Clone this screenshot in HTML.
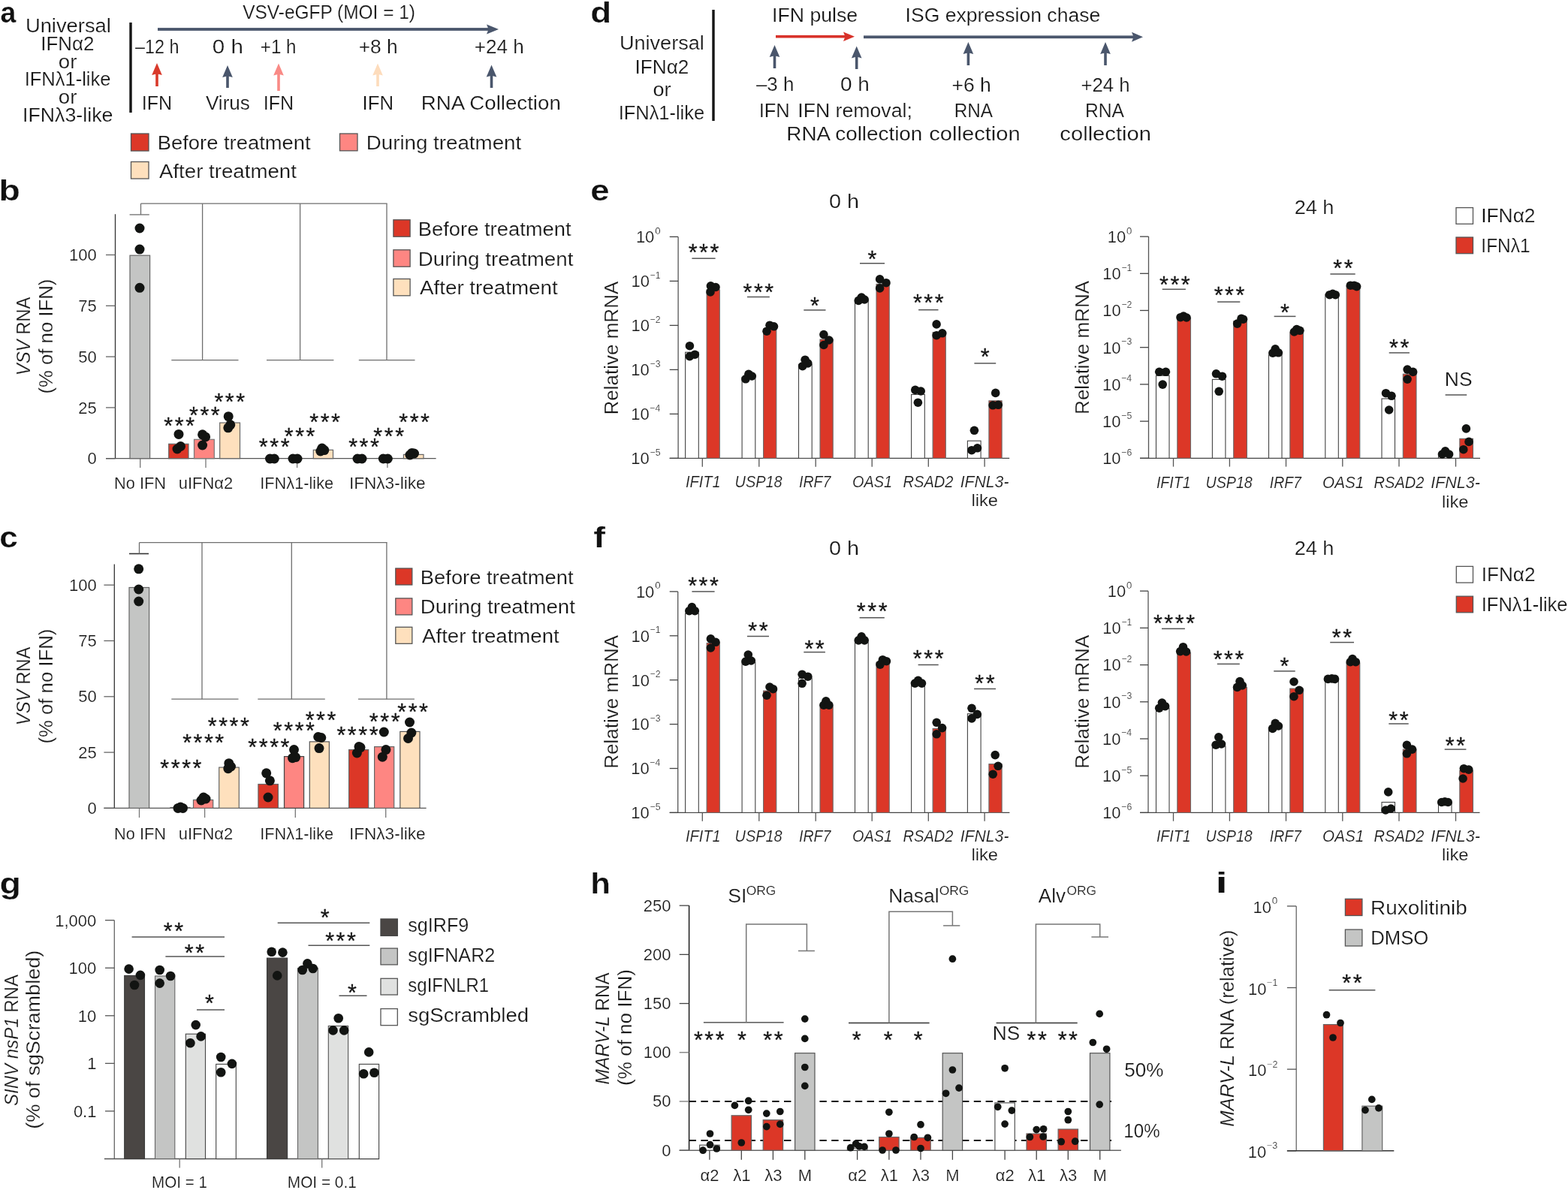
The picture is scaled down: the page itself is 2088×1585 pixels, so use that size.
<!DOCTYPE html>
<html><head><meta charset="utf-8"><title>Figure</title>
<style>html,body{margin:0;padding:0;background:#fff;}svg{display:block;}</style></head>
<body><svg width="2088" height="1585" viewBox="0 0 2088 1585" font-family="'Liberation Sans', 'DejaVu Sans', sans-serif">
<style>text{stroke:#fff;stroke-width:0.22px;}text.st{stroke:#161616;stroke-width:0.3px;}</style>
<rect width="2088" height="1585" fill="#fff"/>
<g transform="translate(1.7,30)" fill="#111"><text xml:space="preserve" x="-1.1" y="0" font-size="38" font-weight="bold" textLength="20.86" lengthAdjust="spacingAndGlyphs">a</text></g>
<g transform="translate(36,43)" fill="#161616"><text xml:space="preserve" x="-2.11" y="0" font-size="26.5" textLength="113.94" lengthAdjust="spacingAndGlyphs">Universal</text></g>
<g transform="translate(56.7,67)" fill="#161616"><text xml:space="preserve" x="-2.39" y="0" font-size="26.5" textLength="71.2" lengthAdjust="spacingAndGlyphs">IFNα2</text></g>
<g transform="translate(79,91)" fill="#161616"><text xml:space="preserve" x="-1.16" y="0" font-size="26.5" textLength="24.62" lengthAdjust="spacingAndGlyphs">or</text></g>
<g transform="translate(35,114.3)" fill="#161616"><text xml:space="preserve" x="-2.35" y="0" font-size="26.5" textLength="114.79" lengthAdjust="spacingAndGlyphs">IFNλ1-like</text></g>
<g transform="translate(79,137.6)" fill="#161616"><text xml:space="preserve" x="-1.16" y="0" font-size="26.5" textLength="24.62" lengthAdjust="spacingAndGlyphs">or</text></g>
<g transform="translate(32.5,161.7)" fill="#161616"><text xml:space="preserve" x="-2.47" y="0" font-size="26.5" textLength="120.36" lengthAdjust="spacingAndGlyphs">IFNλ3-like</text></g>
<rect x="172.3" y="30" width="3.4" height="120" fill="#151515"/>
<g transform="translate(323.3,25)" fill="#161616"><text xml:space="preserve" x="-0.11" y="0" font-size="26.5" textLength="229.81" lengthAdjust="spacingAndGlyphs">VSV-eGFP (MOI = 1)</text></g>
<rect x="210" y="37.1" width="441" height="3.8" fill="#4a566c"/>
<polygon points="664,39 648,32.5 650.5,39 648,45.5" fill="#4a566c"/>
<g transform="translate(180,71)" fill="#161616"><text xml:space="preserve" x="0" y="0" font-size="26.5" textLength="58.52" lengthAdjust="spacingAndGlyphs">–12 h</text></g>
<g transform="translate(284,71)" fill="#161616"><text xml:space="preserve" x="-1.15" y="0" font-size="26.5" textLength="41.07" lengthAdjust="spacingAndGlyphs">0 h</text></g>
<g transform="translate(348,71)" fill="#161616"><text xml:space="preserve" x="-1.18" y="0" font-size="26.5" textLength="47.75" lengthAdjust="spacingAndGlyphs">+1 h</text></g>
<g transform="translate(479,71)" fill="#161616"><text xml:space="preserve" x="-1.29" y="0" font-size="26.5" textLength="52" lengthAdjust="spacingAndGlyphs">+8 h</text></g>
<g transform="translate(633,71)" fill="#161616"><text xml:space="preserve" x="-1.27" y="0" font-size="26.5" textLength="65.97" lengthAdjust="spacingAndGlyphs">+24 h</text></g>
<rect x="207.2" y="96" width="3.6" height="19" fill="#d93a2b"/>
<polygon points="209,84 215.8,100 209,98.2 202.2,100" fill="#d93a2b"/>
<rect x="301.2" y="99" width="3.6" height="18" fill="#4a566c"/>
<polygon points="303,87 309.8,103 303,101.2 296.2,103" fill="#4a566c"/>
<rect x="369.2" y="96.5" width="3.6" height="24.5" fill="#f98a86"/>
<polygon points="371,84.5 377.8,100.5 371,98.7 364.2,100.5" fill="#f98a86"/>
<rect x="501.2" y="96.5" width="3.6" height="18.5" fill="#fddcbc"/>
<polygon points="503,84.5 509.8,100.5 503,98.7 496.2,100.5" fill="#fddcbc"/>
<rect x="652.7" y="98.5" width="3.6" height="18.5" fill="#4a566c"/>
<polygon points="654.5,86.5 661.3,102.5 654.5,100.7 647.7,102.5" fill="#4a566c"/>
<g transform="translate(191,146)" fill="#161616"><text xml:space="preserve" x="-2.31" y="0" font-size="26.5" textLength="40.35" lengthAdjust="spacingAndGlyphs">IFN</text></g>
<g transform="translate(274,146)" fill="#161616"><text xml:space="preserve" x="-0.11" y="0" font-size="26.5" textLength="59.05" lengthAdjust="spacingAndGlyphs">Virus</text></g>
<g transform="translate(353,146)" fill="#161616"><text xml:space="preserve" x="-2.31" y="0" font-size="26.5" textLength="40.35" lengthAdjust="spacingAndGlyphs">IFN</text></g>
<g transform="translate(485,146)" fill="#161616"><text xml:space="preserve" x="-2.38" y="0" font-size="26.5" textLength="41.48" lengthAdjust="spacingAndGlyphs">IFN</text></g>
<g transform="translate(563,146)" fill="#161616"><text xml:space="preserve" x="-2.25" y="0" font-size="26.5" textLength="186.03" lengthAdjust="spacingAndGlyphs">RNA Collection</text></g>
<rect x="174.5" y="178" width="23.5" height="23" fill="#dc3727" stroke="#555" stroke-width="1.3"/>
<g transform="translate(212,199)" fill="#161616"><text xml:space="preserve" x="-2.25" y="0" font-size="26.5" textLength="203.85" lengthAdjust="spacingAndGlyphs">Before treatment</text></g>
<rect x="452.5" y="178" width="23.5" height="22.8" fill="#fe8682" stroke="#555" stroke-width="1.3"/>
<g transform="translate(490,199)" fill="#161616"><text xml:space="preserve" x="-2.27" y="0" font-size="26.5" textLength="206.48" lengthAdjust="spacingAndGlyphs">During treatment</text></g>
<rect x="174.5" y="215.5" width="23.5" height="22.5" fill="#fee0bd" stroke="#555" stroke-width="1.3"/>
<g transform="translate(212,236.8)" fill="#161616"><text xml:space="preserve" x="-0.05" y="0" font-size="26.5" textLength="182.96" lengthAdjust="spacingAndGlyphs">After treatment</text></g>
<g transform="translate(788,30)" fill="#111"><text xml:space="preserve" x="-1.87" y="0" font-size="38" font-weight="bold" textLength="27.88" lengthAdjust="spacingAndGlyphs">d</text></g>
<g transform="translate(827,66.4)" fill="#161616"><text xml:space="preserve" x="-2.09" y="0" font-size="26.5" textLength="112.9" lengthAdjust="spacingAndGlyphs">Universal</text></g>
<g transform="translate(848,97.6)" fill="#161616"><text xml:space="preserve" x="-2.41" y="0" font-size="26.5" textLength="71.73" lengthAdjust="spacingAndGlyphs">IFNα2</text></g>
<g transform="translate(870.5,127.8)" fill="#161616"><text xml:space="preserve" x="-1.14" y="0" font-size="26.5" textLength="24.09" lengthAdjust="spacingAndGlyphs">or</text></g>
<g transform="translate(826,159)" fill="#161616"><text xml:space="preserve" x="-2.35" y="0" font-size="26.5" textLength="114.48" lengthAdjust="spacingAndGlyphs">IFNλ1-like</text></g>
<rect x="948.3" y="13" width="3.4" height="148" fill="#151515"/>
<g transform="translate(1030.5,29)" fill="#161616"><text xml:space="preserve" x="-2.46" y="0" font-size="26.5" textLength="114.15" lengthAdjust="spacingAndGlyphs">IFN pulse</text></g>
<g transform="translate(1208,29)" fill="#161616"><text xml:space="preserve" x="-2.45" y="0" font-size="26.5" textLength="259.63" lengthAdjust="spacingAndGlyphs">ISG expression chase</text></g>
<rect x="1033" y="46.9" width="93" height="3.6" fill="#d8322a"/>
<polygon points="1138,48.7 1123,42.5 1125.5,48.7 1123,54.9" fill="#d8322a"/>
<rect x="1150" y="47.4" width="360" height="3.8" fill="#4a566c"/>
<polygon points="1522,49.3 1507,42.8 1509.5,49.3 1507,55.8" fill="#4a566c"/>
<rect x="1029.7" y="72" width="3.6" height="19" fill="#4a566c"/>
<polygon points="1031.5,60 1038.3,76 1031.5,74.2 1024.7,76" fill="#4a566c"/>
<rect x="1138.9" y="73.4" width="3.6" height="18.6" fill="#4a566c"/>
<polygon points="1140.7,61.4 1147.5,77.4 1140.7,75.6 1133.9,77.4" fill="#4a566c"/>
<rect x="1287.6" y="68" width="3.6" height="19" fill="#4a566c"/>
<polygon points="1289.4,56 1296.2,72 1289.4,70.2 1282.6,72" fill="#4a566c"/>
<rect x="1470.2" y="68" width="3.6" height="19" fill="#4a566c"/>
<polygon points="1472,56 1478.8,72 1472,70.2 1465.2,72" fill="#4a566c"/>
<g transform="translate(1007,120.7)" fill="#161616"><text xml:space="preserve" x="0" y="0" font-size="26.5" textLength="50.28" lengthAdjust="spacingAndGlyphs">–3 h</text></g>
<g transform="translate(1120,120.7)" fill="#161616"><text xml:space="preserve" x="-1.09" y="0" font-size="26.5" textLength="38.91" lengthAdjust="spacingAndGlyphs">0 h</text></g>
<g transform="translate(1268.7,121.5)" fill="#161616"><text xml:space="preserve" x="-1.29" y="0" font-size="26.5" textLength="52.31" lengthAdjust="spacingAndGlyphs">+6 h</text></g>
<g transform="translate(1440.7,121.5)" fill="#161616"><text xml:space="preserve" x="-1.26" y="0" font-size="26.5" textLength="65.23" lengthAdjust="spacingAndGlyphs">+24 h</text></g>
<g transform="translate(1013,156)" fill="#161616"><text xml:space="preserve" x="-2.35" y="0" font-size="26.5" textLength="41.03" lengthAdjust="spacingAndGlyphs">IFN</text></g>
<g transform="translate(1064.7,156)" fill="#161616"><text xml:space="preserve" x="-2.46" y="0" font-size="26.5" textLength="152.55" lengthAdjust="spacingAndGlyphs">IFN removal;</text></g>
<g transform="translate(1272.7,156)" fill="#161616"><text xml:space="preserve" x="-1.99" y="0" font-size="26.5" textLength="51.34" lengthAdjust="spacingAndGlyphs">RNA</text></g>
<g transform="translate(1447,156)" fill="#161616"><text xml:space="preserve" x="-2.02" y="0" font-size="26.5" textLength="52.07" lengthAdjust="spacingAndGlyphs">RNA</text></g>
<g transform="translate(1049.6,187)" fill="#161616"><text xml:space="preserve" x="-2.26" y="0" font-size="26.5" textLength="180.96" lengthAdjust="spacingAndGlyphs">RNA collection</text></g>
<g transform="translate(1238.5,187)" fill="#161616"><text xml:space="preserve" x="-1.24" y="0" font-size="26.5" textLength="121.43" lengthAdjust="spacingAndGlyphs">collection</text></g>
<g transform="translate(1412.6,187)" fill="#161616"><text xml:space="preserve" x="-1.24" y="0" font-size="26.5" textLength="121.53" lengthAdjust="spacingAndGlyphs">collection</text></g>
<g transform="translate(1.6,267)" fill="#111"><text xml:space="preserve" x="-3.06" y="0" font-size="38" font-weight="bold" textLength="28.37" lengthAdjust="spacingAndGlyphs">b</text></g>
<line x1="172.6" y1="285.9" x2="198.8" y2="285.9" stroke="#8a8a8a" stroke-width="1.6"/>
<line x1="187.5" y1="285.9" x2="187.5" y2="271.2" stroke="#6e6e6e" stroke-width="1.3"/>
<line x1="187.5" y1="271.2" x2="515.6" y2="271.2" stroke="#6e6e6e" stroke-width="1.3"/>
<line x1="269.6" y1="271.2" x2="269.6" y2="479.6" stroke="#6e6e6e" stroke-width="1.3"/>
<line x1="399.6" y1="271.2" x2="399.6" y2="479.6" stroke="#6e6e6e" stroke-width="1.3"/>
<line x1="515" y1="271.2" x2="515" y2="479.6" stroke="#6e6e6e" stroke-width="1.3"/>
<line x1="228.3" y1="479.6" x2="317.5" y2="479.6" stroke="#6e6e6e" stroke-width="1.3"/>
<line x1="355" y1="479.6" x2="444.4" y2="479.6" stroke="#6e6e6e" stroke-width="1.3"/>
<line x1="477.8" y1="479.6" x2="552.5" y2="479.6" stroke="#6e6e6e" stroke-width="1.3"/>
<line x1="153.5" y1="285.3" x2="153.5" y2="610.7" stroke="#333" stroke-width="1.3"/>
<line x1="141" y1="610.7" x2="153.5" y2="610.7" stroke="#666" stroke-width="1.3"/>
<g transform="translate(117.28,618.3)" fill="#161616"><text xml:space="preserve" x="-0.86" y="0" font-size="22" textLength="12.24" lengthAdjust="spacingAndGlyphs">0</text></g>
<line x1="141" y1="542.9" x2="153.5" y2="542.9" stroke="#666" stroke-width="1.3"/>
<g transform="translate(105.36,550.5)" fill="#161616"><text xml:space="preserve" x="-1.11" y="0" font-size="22" textLength="24.47" lengthAdjust="spacingAndGlyphs">25</text></g>
<line x1="141" y1="475.1" x2="153.5" y2="475.1" stroke="#666" stroke-width="1.3"/>
<g transform="translate(105.07,482.7)" fill="#161616"><text xml:space="preserve" x="-0.88" y="0" font-size="22" textLength="24.47" lengthAdjust="spacingAndGlyphs">50</text></g>
<line x1="141" y1="407.3" x2="153.5" y2="407.3" stroke="#666" stroke-width="1.3"/>
<g transform="translate(105.38,414.9)" fill="#161616"><text xml:space="preserve" x="-1.13" y="0" font-size="22" textLength="24.47" lengthAdjust="spacingAndGlyphs">75</text></g>
<line x1="141" y1="339.5" x2="153.5" y2="339.5" stroke="#666" stroke-width="1.3"/>
<g transform="translate(93.63,347.1)" fill="#161616"><text xml:space="preserve" x="-1.68" y="0" font-size="22" textLength="36.71" lengthAdjust="spacingAndGlyphs">100</text></g>
<line x1="141" y1="610.7" x2="580.6" y2="610.7" stroke="#555" stroke-width="1.3"/>
<line x1="186.7" y1="610.7" x2="186.7" y2="623" stroke="#777" stroke-width="1.3"/>
<line x1="274" y1="610.7" x2="274" y2="623" stroke="#777" stroke-width="1.3"/>
<line x1="395.6" y1="610.7" x2="395.6" y2="623" stroke="#777" stroke-width="1.3"/>
<line x1="515.9" y1="610.7" x2="515.9" y2="623" stroke="#777" stroke-width="1.3"/>
<rect x="173" y="340.2" width="26.6" height="270.5" fill="#c4c5c4" stroke="#666" stroke-width="1.2"/>
<rect x="224.7" y="591.3" width="26.3" height="19.4" fill="#dc3727" stroke="#666" stroke-width="1.2"/>
<rect x="258.5" y="585.3" width="26.8" height="25.4" fill="#fe8682" stroke="#777" stroke-width="1.2"/>
<rect x="292.7" y="563.1" width="26.8" height="47.6" fill="#fee0bd" stroke="#666" stroke-width="1.2"/>
<rect x="417.3" y="599.3" width="26.2" height="11.4" fill="#fee0bd" stroke="#666" stroke-width="1.2"/>
<rect x="537.4" y="605.4" width="26.6" height="5.3" fill="#fee0bd" stroke="#666" stroke-width="1.2"/>
<circle cx="186" cy="304" r="6.5" fill="#121412"/>
<circle cx="186" cy="332.1" r="6.5" fill="#121412"/>
<circle cx="186" cy="383.3" r="6.5" fill="#121412"/>
<circle cx="238" cy="578.4" r="6.5" fill="#121412"/>
<circle cx="236" cy="598" r="6.5" fill="#121412"/>
<circle cx="240.5" cy="594.5" r="6.5" fill="#121412"/>
<circle cx="269.6" cy="578.8" r="6.5" fill="#121412"/>
<circle cx="273.6" cy="581.9" r="6.5" fill="#121412"/>
<circle cx="269.6" cy="593" r="6.5" fill="#121412"/>
<circle cx="304.2" cy="554.7" r="6.5" fill="#121412"/>
<circle cx="306.8" cy="565.8" r="6.5" fill="#121412"/>
<circle cx="303.8" cy="569.8" r="6.5" fill="#121412"/>
<circle cx="359.5" cy="611" r="6.5" fill="#121412"/>
<circle cx="365.3" cy="611" r="6.5" fill="#121412"/>
<circle cx="390" cy="611" r="6.5" fill="#121412"/>
<circle cx="396" cy="611" r="6.5" fill="#121412"/>
<circle cx="428.8" cy="597" r="6.5" fill="#121412"/>
<circle cx="431.8" cy="599.6" r="6.5" fill="#121412"/>
<circle cx="426.8" cy="601" r="6.5" fill="#121412"/>
<circle cx="476" cy="611" r="6.5" fill="#121412"/>
<circle cx="482" cy="611" r="6.5" fill="#121412"/>
<circle cx="510.3" cy="611" r="6.5" fill="#121412"/>
<circle cx="516.3" cy="611" r="6.5" fill="#121412"/>
<circle cx="548.5" cy="603.4" r="6.5" fill="#121412"/>
<circle cx="551.5" cy="604" r="6.5" fill="#121412"/>
<circle cx="545.9" cy="606" r="6.5" fill="#121412"/>
<text class="st" x="224.3" y="578.33" font-size="30.5" text-anchor="middle" fill="#161616">*</text>
<text class="st" x="238.7" y="578.33" font-size="30.5" text-anchor="middle" fill="#161616">*</text>
<text class="st" x="253.1" y="578.33" font-size="30.5" text-anchor="middle" fill="#161616">*</text>
<text class="st" x="258" y="564.33" font-size="30.5" text-anchor="middle" fill="#161616">*</text>
<text class="st" x="272.4" y="564.33" font-size="30.5" text-anchor="middle" fill="#161616">*</text>
<text class="st" x="286.8" y="564.33" font-size="30.5" text-anchor="middle" fill="#161616">*</text>
<text class="st" x="291.4" y="546.13" font-size="30.5" text-anchor="middle" fill="#161616">*</text>
<text class="st" x="305.8" y="546.13" font-size="30.5" text-anchor="middle" fill="#161616">*</text>
<text class="st" x="320.2" y="546.13" font-size="30.5" text-anchor="middle" fill="#161616">*</text>
<text class="st" x="350.8" y="605.63" font-size="30.5" text-anchor="middle" fill="#161616">*</text>
<text class="st" x="365.2" y="605.63" font-size="30.5" text-anchor="middle" fill="#161616">*</text>
<text class="st" x="379.6" y="605.63" font-size="30.5" text-anchor="middle" fill="#161616">*</text>
<text class="st" x="384.7" y="592.43" font-size="30.5" text-anchor="middle" fill="#161616">*</text>
<text class="st" x="399.1" y="592.43" font-size="30.5" text-anchor="middle" fill="#161616">*</text>
<text class="st" x="413.5" y="592.43" font-size="30.5" text-anchor="middle" fill="#161616">*</text>
<text class="st" x="418.2" y="573.33" font-size="30.5" text-anchor="middle" fill="#161616">*</text>
<text class="st" x="432.6" y="573.33" font-size="30.5" text-anchor="middle" fill="#161616">*</text>
<text class="st" x="447" y="573.33" font-size="30.5" text-anchor="middle" fill="#161616">*</text>
<text class="st" x="470.1" y="605.63" font-size="30.5" text-anchor="middle" fill="#161616">*</text>
<text class="st" x="484.5" y="605.63" font-size="30.5" text-anchor="middle" fill="#161616">*</text>
<text class="st" x="498.9" y="605.63" font-size="30.5" text-anchor="middle" fill="#161616">*</text>
<text class="st" x="503.3" y="592.43" font-size="30.5" text-anchor="middle" fill="#161616">*</text>
<text class="st" x="517.7" y="592.43" font-size="30.5" text-anchor="middle" fill="#161616">*</text>
<text class="st" x="532.1" y="592.43" font-size="30.5" text-anchor="middle" fill="#161616">*</text>
<text class="st" x="537.2" y="573.33" font-size="30.5" text-anchor="middle" fill="#161616">*</text>
<text class="st" x="551.6" y="573.33" font-size="30.5" text-anchor="middle" fill="#161616">*</text>
<text class="st" x="566" y="573.33" font-size="30.5" text-anchor="middle" fill="#161616">*</text>
<g transform="translate(153.9,650.8)" fill="#161616"><text xml:space="preserve" x="-1.79" y="0" font-size="22" textLength="68.96" lengthAdjust="spacingAndGlyphs">No IFN</text></g>
<g transform="translate(239.1,650.8)" fill="#161616"><text xml:space="preserve" x="-1.42" y="0" font-size="22" textLength="72.43" lengthAdjust="spacingAndGlyphs">uIFNα2</text></g>
<g transform="translate(348.3,650.8)" fill="#161616"><text xml:space="preserve" x="-2.01" y="0" font-size="22" textLength="97.87" lengthAdjust="spacingAndGlyphs">IFNλ1-like</text></g>
<g transform="translate(467,650.8)" fill="#161616"><text xml:space="preserve" x="-2.09" y="0" font-size="22" textLength="101.69" lengthAdjust="spacingAndGlyphs">IFNλ3-like</text></g>
<rect x="523.9" y="292.8" width="22.2" height="22.4" fill="#dc3727" stroke="#555" stroke-width="1.3"/>
<rect x="523.9" y="332.8" width="22.2" height="22.4" fill="#fe8682" stroke="#555" stroke-width="1.3"/>
<rect x="523.9" y="371.5" width="22.2" height="22.3" fill="#fee0bd" stroke="#555" stroke-width="1.3"/>
<g transform="translate(559,313.8)" fill="#161616"><text xml:space="preserve" x="-2.25" y="0" font-size="26.5" textLength="203.85" lengthAdjust="spacingAndGlyphs">Before treatment</text></g>
<g transform="translate(559,354.4)" fill="#161616"><text xml:space="preserve" x="-2.28" y="0" font-size="26.5" textLength="206.68" lengthAdjust="spacingAndGlyphs">During treatment</text></g>
<g transform="translate(559,392.2)" fill="#161616"><text xml:space="preserve" x="-0.05" y="0" font-size="26.5" textLength="183.76" lengthAdjust="spacingAndGlyphs">After treatment</text></g>
<g transform="translate(39.6,498.2) rotate(-90)" fill="#161616"><text xml:space="preserve" x="-2.06" y="0" font-size="26.5" font-style="italic" textLength="47.77" lengthAdjust="spacingAndGlyphs">VSV</text><text xml:space="preserve" x="45.71" y="0" font-size="26.5" textLength="57.04" lengthAdjust="spacingAndGlyphs"> RNA</text></g>
<g transform="translate(70.1,523) rotate(-90)" fill="#161616"><text xml:space="preserve" x="-1.59" y="0" font-size="26.5" textLength="152.89" lengthAdjust="spacingAndGlyphs">(% of no IFN)</text></g>
<g transform="translate(1,729)" fill="#111"><text xml:space="preserve" x="-1.72" y="0" font-size="38" font-weight="bold" textLength="24.51" lengthAdjust="spacingAndGlyphs">c</text></g>
<line x1="172" y1="737.5" x2="198" y2="737.5" stroke="#333" stroke-width="1.6"/>
<line x1="185.5" y1="737.5" x2="185.5" y2="722.6" stroke="#6e6e6e" stroke-width="1.3"/>
<line x1="185.5" y1="722.6" x2="515.5" y2="722.6" stroke="#6e6e6e" stroke-width="1.3"/>
<line x1="269" y1="722.6" x2="269" y2="931.2" stroke="#6e6e6e" stroke-width="1.3"/>
<line x1="388.3" y1="722.6" x2="388.3" y2="931.2" stroke="#6e6e6e" stroke-width="1.3"/>
<line x1="514.9" y1="722.6" x2="514.9" y2="931.2" stroke="#6e6e6e" stroke-width="1.3"/>
<line x1="228.3" y1="931.2" x2="317.5" y2="931.2" stroke="#6e6e6e" stroke-width="1.3"/>
<line x1="343.3" y1="931.2" x2="432.8" y2="931.2" stroke="#6e6e6e" stroke-width="1.3"/>
<line x1="477" y1="931.2" x2="551.9" y2="931.2" stroke="#6e6e6e" stroke-width="1.3"/>
<line x1="152.3" y1="751.4" x2="152.3" y2="1076.4" stroke="#333" stroke-width="1.3"/>
<line x1="138.4" y1="1076.4" x2="152.3" y2="1076.4" stroke="#666" stroke-width="1.3"/>
<g transform="translate(117.28,1084)" fill="#161616"><text xml:space="preserve" x="-0.86" y="0" font-size="22" textLength="12.24" lengthAdjust="spacingAndGlyphs">0</text></g>
<line x1="138.4" y1="1002.1" x2="152.3" y2="1002.1" stroke="#666" stroke-width="1.3"/>
<g transform="translate(105.36,1009.7)" fill="#161616"><text xml:space="preserve" x="-1.11" y="0" font-size="22" textLength="24.47" lengthAdjust="spacingAndGlyphs">25</text></g>
<line x1="138.4" y1="927.8" x2="152.3" y2="927.8" stroke="#666" stroke-width="1.3"/>
<g transform="translate(105.07,935.4)" fill="#161616"><text xml:space="preserve" x="-0.88" y="0" font-size="22" textLength="24.47" lengthAdjust="spacingAndGlyphs">50</text></g>
<line x1="138.4" y1="853.5" x2="152.3" y2="853.5" stroke="#666" stroke-width="1.3"/>
<g transform="translate(105.38,861.1)" fill="#161616"><text xml:space="preserve" x="-1.13" y="0" font-size="22" textLength="24.47" lengthAdjust="spacingAndGlyphs">75</text></g>
<line x1="138.4" y1="779.2" x2="152.3" y2="779.2" stroke="#666" stroke-width="1.3"/>
<g transform="translate(93.63,786.8)" fill="#161616"><text xml:space="preserve" x="-1.68" y="0" font-size="22" textLength="36.71" lengthAdjust="spacingAndGlyphs">100</text></g>
<line x1="138.4" y1="1076.4" x2="567.6" y2="1076.4" stroke="#555" stroke-width="1.3"/>
<line x1="185.5" y1="1076.4" x2="185.5" y2="1089" stroke="#777" stroke-width="1.3"/>
<line x1="272.6" y1="1076.4" x2="272.6" y2="1089" stroke="#777" stroke-width="1.3"/>
<line x1="393.3" y1="1076.4" x2="393.3" y2="1089" stroke="#777" stroke-width="1.3"/>
<line x1="513.7" y1="1076.4" x2="513.7" y2="1089" stroke="#777" stroke-width="1.3"/>
<rect x="172" y="782.5" width="26.6" height="293.9" fill="#c4c5c4" stroke="#666" stroke-width="1.2"/>
<rect x="227" y="1075.5" width="26" height="0.9" fill="#dc3727" stroke="#666" stroke-width="1.2"/>
<rect x="257.5" y="1065.4" width="26.2" height="11" fill="#fe8682" stroke="#666" stroke-width="1.2"/>
<rect x="291.7" y="1022.1" width="26.6" height="54.3" fill="#fee0bd" stroke="#666" stroke-width="1.2"/>
<rect x="343.9" y="1044.5" width="26.5" height="31.9" fill="#dc3727" stroke="#666" stroke-width="1.2"/>
<rect x="378.5" y="1007.6" width="26.1" height="68.8" fill="#fe8682" stroke="#444" stroke-width="1.2"/>
<rect x="412.3" y="987.9" width="26.1" height="88.5" fill="#fee0bd" stroke="#555" stroke-width="1.2"/>
<rect x="464.6" y="998.6" width="26.1" height="77.8" fill="#dc3727" stroke="#666" stroke-width="1.2"/>
<rect x="498.6" y="994.6" width="26.1" height="81.8" fill="#fe8682" stroke="#666" stroke-width="1.2"/>
<rect x="532.8" y="974.4" width="26.2" height="102" fill="#fee0bd" stroke="#555" stroke-width="1.2"/>
<circle cx="184.7" cy="757.8" r="6.5" fill="#121412"/>
<circle cx="184.7" cy="785" r="6.5" fill="#121412"/>
<circle cx="184.7" cy="801" r="6.5" fill="#121412"/>
<circle cx="237" cy="1076.4" r="6.5" fill="#121412"/>
<circle cx="240.4" cy="1075" r="6.5" fill="#121412"/>
<circle cx="243.5" cy="1076.4" r="6.5" fill="#121412"/>
<circle cx="268" cy="1066" r="6.5" fill="#121412"/>
<circle cx="271" cy="1062" r="6.5" fill="#121412"/>
<circle cx="274" cy="1064" r="6.5" fill="#121412"/>
<circle cx="304.8" cy="1016.7" r="6.5" fill="#121412"/>
<circle cx="303.8" cy="1023.7" r="6.5" fill="#121412"/>
<circle cx="307.5" cy="1021" r="6.5" fill="#121412"/>
<circle cx="354.7" cy="1029.8" r="6.5" fill="#121412"/>
<circle cx="359.4" cy="1039.8" r="6.5" fill="#121412"/>
<circle cx="357" cy="1062" r="6.5" fill="#121412"/>
<circle cx="391.5" cy="998.6" r="6.5" fill="#121412"/>
<circle cx="389.5" cy="1009.7" r="6.5" fill="#121412"/>
<circle cx="393.6" cy="1008.6" r="6.5" fill="#121412"/>
<circle cx="423.7" cy="981.5" r="6.5" fill="#121412"/>
<circle cx="427.8" cy="982.5" r="6.5" fill="#121412"/>
<circle cx="425" cy="996.6" r="6.5" fill="#121412"/>
<circle cx="478" cy="994.6" r="6.5" fill="#121412"/>
<circle cx="475.4" cy="1003" r="6.5" fill="#121412"/>
<circle cx="480" cy="995.6" r="6.5" fill="#121412"/>
<circle cx="511.3" cy="975" r="6.5" fill="#121412"/>
<circle cx="513.9" cy="998.6" r="6.5" fill="#121412"/>
<circle cx="509.3" cy="1008.2" r="6.5" fill="#121412"/>
<circle cx="545.5" cy="962" r="6.5" fill="#121412"/>
<circle cx="547.9" cy="976" r="6.5" fill="#121412"/>
<circle cx="543.5" cy="983.5" r="6.5" fill="#121412"/>
<text class="st" x="219.3" y="1034.33" font-size="30.5" text-anchor="middle" fill="#161616">*</text>
<text class="st" x="233.7" y="1034.33" font-size="30.5" text-anchor="middle" fill="#161616">*</text>
<text class="st" x="248.1" y="1034.33" font-size="30.5" text-anchor="middle" fill="#161616">*</text>
<text class="st" x="262.5" y="1034.33" font-size="30.5" text-anchor="middle" fill="#161616">*</text>
<text class="st" x="249.1" y="1000.13" font-size="30.5" text-anchor="middle" fill="#161616">*</text>
<text class="st" x="263.5" y="1000.13" font-size="30.5" text-anchor="middle" fill="#161616">*</text>
<text class="st" x="277.9" y="1000.13" font-size="30.5" text-anchor="middle" fill="#161616">*</text>
<text class="st" x="292.3" y="1000.13" font-size="30.5" text-anchor="middle" fill="#161616">*</text>
<text class="st" x="282.7" y="978.03" font-size="30.5" text-anchor="middle" fill="#161616">*</text>
<text class="st" x="297.1" y="978.03" font-size="30.5" text-anchor="middle" fill="#161616">*</text>
<text class="st" x="311.5" y="978.03" font-size="30.5" text-anchor="middle" fill="#161616">*</text>
<text class="st" x="325.9" y="978.03" font-size="30.5" text-anchor="middle" fill="#161616">*</text>
<text class="st" x="336.3" y="1006.13" font-size="30.5" text-anchor="middle" fill="#161616">*</text>
<text class="st" x="350.7" y="1006.13" font-size="30.5" text-anchor="middle" fill="#161616">*</text>
<text class="st" x="365.1" y="1006.13" font-size="30.5" text-anchor="middle" fill="#161616">*</text>
<text class="st" x="379.5" y="1006.13" font-size="30.5" text-anchor="middle" fill="#161616">*</text>
<text class="st" x="369.8" y="984.03" font-size="30.5" text-anchor="middle" fill="#161616">*</text>
<text class="st" x="384.2" y="984.03" font-size="30.5" text-anchor="middle" fill="#161616">*</text>
<text class="st" x="398.6" y="984.03" font-size="30.5" text-anchor="middle" fill="#161616">*</text>
<text class="st" x="413" y="984.03" font-size="30.5" text-anchor="middle" fill="#161616">*</text>
<text class="st" x="412.6" y="969.63" font-size="30.5" text-anchor="middle" fill="#161616">*</text>
<text class="st" x="427" y="969.63" font-size="30.5" text-anchor="middle" fill="#161616">*</text>
<text class="st" x="441.4" y="969.63" font-size="30.5" text-anchor="middle" fill="#161616">*</text>
<text class="st" x="454.4" y="989.63" font-size="30.5" text-anchor="middle" fill="#161616">*</text>
<text class="st" x="468.8" y="989.63" font-size="30.5" text-anchor="middle" fill="#161616">*</text>
<text class="st" x="483.2" y="989.63" font-size="30.5" text-anchor="middle" fill="#161616">*</text>
<text class="st" x="497.6" y="989.63" font-size="30.5" text-anchor="middle" fill="#161616">*</text>
<text class="st" x="497.8" y="971.63" font-size="30.5" text-anchor="middle" fill="#161616">*</text>
<text class="st" x="512.2" y="971.63" font-size="30.5" text-anchor="middle" fill="#161616">*</text>
<text class="st" x="526.6" y="971.63" font-size="30.5" text-anchor="middle" fill="#161616">*</text>
<text class="st" x="535.2" y="959.33" font-size="30.5" text-anchor="middle" fill="#161616">*</text>
<text class="st" x="549.6" y="959.33" font-size="30.5" text-anchor="middle" fill="#161616">*</text>
<text class="st" x="564" y="959.33" font-size="30.5" text-anchor="middle" fill="#161616">*</text>
<g transform="translate(153.9,1118)" fill="#161616"><text xml:space="preserve" x="-1.79" y="0" font-size="22" textLength="68.96" lengthAdjust="spacingAndGlyphs">No IFN</text></g>
<g transform="translate(239.1,1118)" fill="#161616"><text xml:space="preserve" x="-1.42" y="0" font-size="22" textLength="72.43" lengthAdjust="spacingAndGlyphs">uIFNα2</text></g>
<g transform="translate(348.3,1118)" fill="#161616"><text xml:space="preserve" x="-2.01" y="0" font-size="22" textLength="97.87" lengthAdjust="spacingAndGlyphs">IFNλ1-like</text></g>
<g transform="translate(467,1118)" fill="#161616"><text xml:space="preserve" x="-2.09" y="0" font-size="22" textLength="101.69" lengthAdjust="spacingAndGlyphs">IFNλ3-like</text></g>
<rect x="526.8" y="757" width="22" height="22" fill="#dc3727" stroke="#555" stroke-width="1.3"/>
<rect x="526.8" y="796.9" width="22" height="22" fill="#fe8682" stroke="#555" stroke-width="1.3"/>
<rect x="526.8" y="835.3" width="22" height="22" fill="#fee0bd" stroke="#555" stroke-width="1.3"/>
<g transform="translate(562.1,777.8)" fill="#161616"><text xml:space="preserve" x="-2.24" y="0" font-size="26.5" textLength="203.64" lengthAdjust="spacingAndGlyphs">Before treatment</text></g>
<g transform="translate(562.1,817.3)" fill="#161616"><text xml:space="preserve" x="-2.27" y="0" font-size="26.5" textLength="206.07" lengthAdjust="spacingAndGlyphs">During treatment</text></g>
<g transform="translate(562.1,855.9)" fill="#161616"><text xml:space="preserve" x="-0.05" y="0" font-size="26.5" textLength="182.66" lengthAdjust="spacingAndGlyphs">After treatment</text></g>
<g transform="translate(39.6,964.2) rotate(-90)" fill="#161616"><text xml:space="preserve" x="-2.06" y="0" font-size="26.5" font-style="italic" textLength="47.77" lengthAdjust="spacingAndGlyphs">VSV</text><text xml:space="preserve" x="45.71" y="0" font-size="26.5" textLength="57.04" lengthAdjust="spacingAndGlyphs"> RNA</text></g>
<g transform="translate(70.1,989) rotate(-90)" fill="#161616"><text xml:space="preserve" x="-1.59" y="0" font-size="26.5" textLength="152.89" lengthAdjust="spacingAndGlyphs">(% of no IFN)</text></g>
<g transform="translate(788,267)" fill="#111"><text xml:space="preserve" x="-1.78" y="0" font-size="38" font-weight="bold" textLength="25.34" lengthAdjust="spacingAndGlyphs">e</text></g>
<g transform="translate(1105,277.2)" fill="#161616"><text xml:space="preserve" x="-1.12" y="0" font-size="26.5" textLength="39.99" lengthAdjust="spacingAndGlyphs">0 h</text></g>
<g transform="translate(1725,284.9)" fill="#161616"><text xml:space="preserve" x="-1.37" y="0" font-size="26.5" textLength="52.83" lengthAdjust="spacingAndGlyphs">24 h</text></g>
<line x1="903.1" y1="315.4" x2="903.1" y2="610.4" stroke="#555" stroke-width="1.3"/>
<line x1="891.7" y1="315.4" x2="903.1" y2="315.4" stroke="#444" stroke-width="1.3"/>
<g transform="translate(872.69,311.8)" fill="#161616"><text xml:space="preserve" x="-0.52" y="0" font-size="13.2" textLength="7.34" lengthAdjust="spacingAndGlyphs">0</text></g>
<g transform="translate(848.55,323.2)" fill="#161616"><text xml:space="preserve" x="-1.68" y="0" font-size="22" textLength="24.47" lengthAdjust="spacingAndGlyphs">10</text></g>
<line x1="891.7" y1="374.4" x2="903.1" y2="374.4" stroke="#444" stroke-width="1.3"/>
<g transform="translate(866.21,370.8)" fill="#161616"><text xml:space="preserve" x="-0.61" y="0" font-size="13.2" textLength="14" lengthAdjust="spacingAndGlyphs">−1</text></g>
<g transform="translate(842.07,382.2)" fill="#161616"><text xml:space="preserve" x="-1.68" y="0" font-size="22" textLength="24.47" lengthAdjust="spacingAndGlyphs">10</text></g>
<line x1="891.7" y1="433.4" x2="903.1" y2="433.4" stroke="#444" stroke-width="1.3"/>
<g transform="translate(866.23,429.8)" fill="#161616"><text xml:space="preserve" x="-0.61" y="0" font-size="13.2" textLength="14" lengthAdjust="spacingAndGlyphs">−2</text></g>
<g transform="translate(842.09,441.2)" fill="#161616"><text xml:space="preserve" x="-1.68" y="0" font-size="22" textLength="24.47" lengthAdjust="spacingAndGlyphs">10</text></g>
<line x1="891.7" y1="492.4" x2="903.1" y2="492.4" stroke="#444" stroke-width="1.3"/>
<g transform="translate(866.15,488.8)" fill="#161616"><text xml:space="preserve" x="-0.61" y="0" font-size="13.2" textLength="14" lengthAdjust="spacingAndGlyphs">−3</text></g>
<g transform="translate(842.01,500.2)" fill="#161616"><text xml:space="preserve" x="-1.68" y="0" font-size="22" textLength="24.47" lengthAdjust="spacingAndGlyphs">10</text></g>
<line x1="891.7" y1="551.4" x2="903.1" y2="551.4" stroke="#444" stroke-width="1.3"/>
<g transform="translate(865.97,547.8)" fill="#161616"><text xml:space="preserve" x="-0.61" y="0" font-size="13.2" textLength="14" lengthAdjust="spacingAndGlyphs">−4</text></g>
<g transform="translate(841.83,559.2)" fill="#161616"><text xml:space="preserve" x="-1.68" y="0" font-size="22" textLength="24.47" lengthAdjust="spacingAndGlyphs">10</text></g>
<line x1="891.7" y1="610.4" x2="903.1" y2="610.4" stroke="#444" stroke-width="1.3"/>
<g transform="translate(866.12,606.8)" fill="#161616"><text xml:space="preserve" x="-0.61" y="0" font-size="13.2" textLength="14" lengthAdjust="spacingAndGlyphs">−5</text></g>
<g transform="translate(841.99,618.2)" fill="#161616"><text xml:space="preserve" x="-1.68" y="0" font-size="22" textLength="24.47" lengthAdjust="spacingAndGlyphs">10</text></g>
<line x1="891.7" y1="610.4" x2="1344.2" y2="610.4" stroke="#444" stroke-width="1.3"/>
<rect x="912.6" y="469.2" width="17.7" height="141.2" fill="#fff" stroke="#444" stroke-width="1.1"/>
<rect x="941.1" y="385.9" width="17.2" height="224.5" fill="#dc3727" stroke="#6a6a6a" stroke-width="1.1"/>
<line x1="935.3" y1="610.4" x2="935.3" y2="621.7" stroke="#555" stroke-width="1.3"/>
<rect x="988.1" y="502.4" width="17.7" height="108" fill="#fff" stroke="#444" stroke-width="1.1"/>
<rect x="1016.6" y="438" width="17.2" height="172.4" fill="#dc3727" stroke="#6a6a6a" stroke-width="1.1"/>
<line x1="1010.8" y1="610.4" x2="1010.8" y2="621.7" stroke="#555" stroke-width="1.3"/>
<rect x="1063.5" y="485.3" width="17.7" height="125.1" fill="#fff" stroke="#444" stroke-width="1.1"/>
<rect x="1092" y="452" width="17.2" height="158.4" fill="#dc3727" stroke="#6a6a6a" stroke-width="1.1"/>
<line x1="1086.2" y1="610.4" x2="1086.2" y2="621.7" stroke="#555" stroke-width="1.3"/>
<rect x="1138.5" y="400" width="17.7" height="210.4" fill="#fff" stroke="#444" stroke-width="1.1"/>
<rect x="1167" y="378.4" width="17.2" height="232" fill="#dc3727" stroke="#6a6a6a" stroke-width="1.1"/>
<line x1="1161.2" y1="610.4" x2="1161.2" y2="621.7" stroke="#555" stroke-width="1.3"/>
<rect x="1213.6" y="525.4" width="17.7" height="85" fill="#fff" stroke="#444" stroke-width="1.1"/>
<rect x="1242.1" y="442.7" width="17.2" height="167.7" fill="#dc3727" stroke="#6a6a6a" stroke-width="1.1"/>
<line x1="1236.3" y1="610.4" x2="1236.3" y2="621.7" stroke="#555" stroke-width="1.3"/>
<rect x="1288.4" y="587.2" width="17.7" height="23.2" fill="#fff" stroke="#444" stroke-width="1.1"/>
<rect x="1316.9" y="533.8" width="17.2" height="76.6" fill="#dc3727" stroke="#6a6a6a" stroke-width="1.1"/>
<line x1="1311.1" y1="610.4" x2="1311.1" y2="621.7" stroke="#555" stroke-width="1.3"/>
<line x1="921.4" y1="344.2" x2="952.6" y2="344.2" stroke="#555" stroke-width="1.5"/>
<text class="st" x="922.6" y="347.13" font-size="30.5" text-anchor="middle" fill="#161616">*</text>
<text class="st" x="937" y="347.13" font-size="30.5" text-anchor="middle" fill="#161616">*</text>
<text class="st" x="951.4" y="347.13" font-size="30.5" text-anchor="middle" fill="#161616">*</text>
<line x1="994.9" y1="395.5" x2="1024.8" y2="395.5" stroke="#555" stroke-width="1.5"/>
<text class="st" x="995.5" y="400.13" font-size="30.5" text-anchor="middle" fill="#161616">*</text>
<text class="st" x="1009.9" y="400.13" font-size="30.5" text-anchor="middle" fill="#161616">*</text>
<text class="st" x="1024.3" y="400.13" font-size="30.5" text-anchor="middle" fill="#161616">*</text>
<line x1="1070.3" y1="413" x2="1099.5" y2="413" stroke="#555" stroke-width="1.5"/>
<text class="st" x="1084.9" y="417.63" font-size="30.5" text-anchor="middle" fill="#161616">*</text>
<line x1="1145" y1="350.7" x2="1178" y2="350.7" stroke="#555" stroke-width="1.5"/>
<text class="st" x="1161.5" y="356.23" font-size="30.5" text-anchor="middle" fill="#161616">*</text>
<line x1="1223.1" y1="412.7" x2="1249.5" y2="412.7" stroke="#555" stroke-width="1.5"/>
<text class="st" x="1221.9" y="413.93" font-size="30.5" text-anchor="middle" fill="#161616">*</text>
<text class="st" x="1236.3" y="413.93" font-size="30.5" text-anchor="middle" fill="#161616">*</text>
<text class="st" x="1250.7" y="413.93" font-size="30.5" text-anchor="middle" fill="#161616">*</text>
<line x1="1297.4" y1="483.9" x2="1326.2" y2="483.9" stroke="#555" stroke-width="1.5"/>
<text class="st" x="1311.8" y="486.33" font-size="30.5" text-anchor="middle" fill="#161616">*</text>
<circle cx="918.4" cy="460.7" r="5.8" fill="#121412"/>
<circle cx="918.4" cy="474.6" r="5.8" fill="#121412"/>
<circle cx="925.3" cy="472.2" r="5.8" fill="#121412"/>
<circle cx="946.4" cy="380.8" r="5.8" fill="#121412"/>
<circle cx="953" cy="382.5" r="5.8" fill="#121412"/>
<circle cx="946" cy="388.9" r="5.8" fill="#121412"/>
<circle cx="996.9" cy="498.3" r="5.8" fill="#121412"/>
<circle cx="992.9" cy="504.8" r="5.8" fill="#121412"/>
<circle cx="1001.3" cy="501" r="5.8" fill="#121412"/>
<circle cx="1025" cy="433.2" r="5.8" fill="#121412"/>
<circle cx="1030.5" cy="434.8" r="5.8" fill="#121412"/>
<circle cx="1021" cy="441.2" r="5.8" fill="#121412"/>
<circle cx="1072.1" cy="479.2" r="5.8" fill="#121412"/>
<circle cx="1068.7" cy="487.7" r="5.8" fill="#121412"/>
<circle cx="1075.8" cy="483.9" r="5.8" fill="#121412"/>
<circle cx="1096.9" cy="445.6" r="5.8" fill="#121412"/>
<circle cx="1103.9" cy="453" r="5.8" fill="#121412"/>
<circle cx="1096.9" cy="459.5" r="5.8" fill="#121412"/>
<circle cx="1147.2" cy="396" r="5.8" fill="#121412"/>
<circle cx="1143.2" cy="400.4" r="5.8" fill="#121412"/>
<circle cx="1151.2" cy="399" r="5.8" fill="#121412"/>
<circle cx="1171.6" cy="371.9" r="5.8" fill="#121412"/>
<circle cx="1180" cy="376.7" r="5.8" fill="#121412"/>
<circle cx="1171.6" cy="383.9" r="5.8" fill="#121412"/>
<circle cx="1218.8" cy="519.4" r="5.8" fill="#121412"/>
<circle cx="1226.2" cy="521" r="5.8" fill="#121412"/>
<circle cx="1222.4" cy="536.2" r="5.8" fill="#121412"/>
<circle cx="1247.1" cy="431.9" r="5.8" fill="#121412"/>
<circle cx="1247.1" cy="446.7" r="5.8" fill="#121412"/>
<circle cx="1254.8" cy="443.8" r="5.8" fill="#121412"/>
<circle cx="1297.4" cy="573.3" r="5.8" fill="#121412"/>
<circle cx="1293.9" cy="599.7" r="5.8" fill="#121412"/>
<circle cx="1301.5" cy="596.8" r="5.8" fill="#121412"/>
<circle cx="1325.7" cy="523.4" r="5.8" fill="#121412"/>
<circle cx="1322.1" cy="539.8" r="5.8" fill="#121412"/>
<circle cx="1329.3" cy="539.3" r="5.8" fill="#121412"/>
<g transform="translate(913.8,649.2)" fill="#161616"><text xml:space="preserve" x="-0.79" y="0" font-size="22" font-style="italic" textLength="46.68" lengthAdjust="spacingAndGlyphs">IFIT1</text></g>
<g transform="translate(980,649.2)" fill="#161616"><text xml:space="preserve" x="-1.49" y="0" font-size="22" font-style="italic" textLength="63.1" lengthAdjust="spacingAndGlyphs">USP18</text></g>
<g transform="translate(1064.7,649.2)" fill="#161616"><text xml:space="preserve" x="-0.78" y="0" font-size="22" font-style="italic" textLength="42.47" lengthAdjust="spacingAndGlyphs">IRF7</text></g>
<g transform="translate(1136,649.2)" fill="#161616"><text xml:space="preserve" x="-1.08" y="0" font-size="22" font-style="italic" textLength="53.16" lengthAdjust="spacingAndGlyphs">OAS1</text></g>
<g transform="translate(1203.2,649.2)" fill="#161616"><text xml:space="preserve" x="-0.62" y="0" font-size="22" font-style="italic" textLength="66.91" lengthAdjust="spacingAndGlyphs">RSAD2</text></g>
<g transform="translate(1279.5,649.2)" fill="#161616"><text xml:space="preserve" x="-0.84" y="0" font-size="22" font-style="italic" textLength="64.82" lengthAdjust="spacingAndGlyphs">IFNL3-</text></g>
<g transform="translate(1295,674)" fill="#161616"><text xml:space="preserve" x="-1.6" y="0" font-size="22" textLength="35.66" lengthAdjust="spacingAndGlyphs">like</text></g>
<line x1="1529.5" y1="315.1" x2="1529.5" y2="610.3" stroke="#555" stroke-width="1.3"/>
<line x1="1518" y1="315.1" x2="1529.5" y2="315.1" stroke="#444" stroke-width="1.3"/>
<g transform="translate(1500.49,311.5)" fill="#161616"><text xml:space="preserve" x="-0.52" y="0" font-size="13.2" textLength="7.34" lengthAdjust="spacingAndGlyphs">0</text></g>
<g transform="translate(1476.35,322.9)" fill="#161616"><text xml:space="preserve" x="-1.68" y="0" font-size="22" textLength="24.47" lengthAdjust="spacingAndGlyphs">10</text></g>
<line x1="1518" y1="364.3" x2="1529.5" y2="364.3" stroke="#444" stroke-width="1.3"/>
<g transform="translate(1494.01,360.7)" fill="#161616"><text xml:space="preserve" x="-0.61" y="0" font-size="13.2" textLength="14" lengthAdjust="spacingAndGlyphs">−1</text></g>
<g transform="translate(1469.87,372.1)" fill="#161616"><text xml:space="preserve" x="-1.68" y="0" font-size="22" textLength="24.47" lengthAdjust="spacingAndGlyphs">10</text></g>
<line x1="1518" y1="413.5" x2="1529.5" y2="413.5" stroke="#444" stroke-width="1.3"/>
<g transform="translate(1494.03,409.9)" fill="#161616"><text xml:space="preserve" x="-0.61" y="0" font-size="13.2" textLength="14" lengthAdjust="spacingAndGlyphs">−2</text></g>
<g transform="translate(1469.89,421.3)" fill="#161616"><text xml:space="preserve" x="-1.68" y="0" font-size="22" textLength="24.47" lengthAdjust="spacingAndGlyphs">10</text></g>
<line x1="1518" y1="462.7" x2="1529.5" y2="462.7" stroke="#444" stroke-width="1.3"/>
<g transform="translate(1493.95,459.1)" fill="#161616"><text xml:space="preserve" x="-0.61" y="0" font-size="13.2" textLength="14" lengthAdjust="spacingAndGlyphs">−3</text></g>
<g transform="translate(1469.81,470.5)" fill="#161616"><text xml:space="preserve" x="-1.68" y="0" font-size="22" textLength="24.47" lengthAdjust="spacingAndGlyphs">10</text></g>
<line x1="1518" y1="511.9" x2="1529.5" y2="511.9" stroke="#444" stroke-width="1.3"/>
<g transform="translate(1493.77,508.3)" fill="#161616"><text xml:space="preserve" x="-0.61" y="0" font-size="13.2" textLength="14" lengthAdjust="spacingAndGlyphs">−4</text></g>
<g transform="translate(1469.63,519.7)" fill="#161616"><text xml:space="preserve" x="-1.68" y="0" font-size="22" textLength="24.47" lengthAdjust="spacingAndGlyphs">10</text></g>
<line x1="1518" y1="561.1" x2="1529.5" y2="561.1" stroke="#444" stroke-width="1.3"/>
<g transform="translate(1493.92,557.5)" fill="#161616"><text xml:space="preserve" x="-0.61" y="0" font-size="13.2" textLength="14" lengthAdjust="spacingAndGlyphs">−5</text></g>
<g transform="translate(1469.79,568.9)" fill="#161616"><text xml:space="preserve" x="-1.68" y="0" font-size="22" textLength="24.47" lengthAdjust="spacingAndGlyphs">10</text></g>
<line x1="1518" y1="610.3" x2="1529.5" y2="610.3" stroke="#444" stroke-width="1.3"/>
<g transform="translate(1493.95,606.7)" fill="#161616"><text xml:space="preserve" x="-0.61" y="0" font-size="13.2" textLength="14" lengthAdjust="spacingAndGlyphs">−6</text></g>
<g transform="translate(1469.81,618.1)" fill="#161616"><text xml:space="preserve" x="-1.68" y="0" font-size="22" textLength="24.47" lengthAdjust="spacingAndGlyphs">10</text></g>
<line x1="1518" y1="610.3" x2="1971" y2="610.3" stroke="#444" stroke-width="1.3"/>
<rect x="1539.5" y="500.3" width="17.5" height="110" fill="#fff" stroke="#444" stroke-width="1.1"/>
<rect x="1567.8" y="423.5" width="17.7" height="186.8" fill="#dc3727" stroke="#6a6a6a" stroke-width="1.1"/>
<line x1="1562.5" y1="610.3" x2="1562.5" y2="621.6" stroke="#555" stroke-width="1.3"/>
<rect x="1614.4" y="505.4" width="17.5" height="104.9" fill="#fff" stroke="#444" stroke-width="1.1"/>
<rect x="1642.7" y="427.7" width="17.7" height="182.6" fill="#dc3727" stroke="#6a6a6a" stroke-width="1.1"/>
<line x1="1637.4" y1="610.3" x2="1637.4" y2="621.6" stroke="#555" stroke-width="1.3"/>
<rect x="1689.5" y="472.7" width="17.5" height="137.6" fill="#fff" stroke="#444" stroke-width="1.1"/>
<rect x="1717.8" y="442.8" width="17.7" height="167.5" fill="#dc3727" stroke="#6a6a6a" stroke-width="1.1"/>
<line x1="1712.5" y1="610.3" x2="1712.5" y2="621.6" stroke="#555" stroke-width="1.3"/>
<rect x="1764.8" y="392.1" width="17.5" height="218.2" fill="#fff" stroke="#444" stroke-width="1.1"/>
<rect x="1793.1" y="381.6" width="17.7" height="228.7" fill="#dc3727" stroke="#6a6a6a" stroke-width="1.1"/>
<line x1="1787.8" y1="610.3" x2="1787.8" y2="621.6" stroke="#555" stroke-width="1.3"/>
<rect x="1840" y="531" width="17.5" height="79.3" fill="#fff" stroke="#444" stroke-width="1.1"/>
<rect x="1868.3" y="498.2" width="17.7" height="112.1" fill="#dc3727" stroke="#6a6a6a" stroke-width="1.1"/>
<line x1="1863" y1="610.3" x2="1863" y2="621.6" stroke="#555" stroke-width="1.3"/>
<rect x="1915.5" y="603.7" width="17.5" height="6.6" fill="#fff" stroke="#444" stroke-width="1.1"/>
<rect x="1943.8" y="584.3" width="17.7" height="26" fill="#dc3727" stroke="#6a6a6a" stroke-width="1.1"/>
<line x1="1938.5" y1="610.3" x2="1938.5" y2="621.6" stroke="#555" stroke-width="1.3"/>
<line x1="1547.7" y1="385.3" x2="1578.9" y2="385.3" stroke="#555" stroke-width="1.5"/>
<text class="st" x="1550" y="389.73" font-size="30.5" text-anchor="middle" fill="#161616">*</text>
<text class="st" x="1564.4" y="389.73" font-size="30.5" text-anchor="middle" fill="#161616">*</text>
<text class="st" x="1578.8" y="389.73" font-size="30.5" text-anchor="middle" fill="#161616">*</text>
<line x1="1621.1" y1="402.1" x2="1651.3" y2="402.1" stroke="#555" stroke-width="1.5"/>
<text class="st" x="1622.6" y="403.93" font-size="30.5" text-anchor="middle" fill="#161616">*</text>
<text class="st" x="1637" y="403.93" font-size="30.5" text-anchor="middle" fill="#161616">*</text>
<text class="st" x="1651.4" y="403.93" font-size="30.5" text-anchor="middle" fill="#161616">*</text>
<line x1="1696.6" y1="421.4" x2="1725.4" y2="421.4" stroke="#555" stroke-width="1.5"/>
<text class="st" x="1711" y="426.63" font-size="30.5" text-anchor="middle" fill="#161616">*</text>
<line x1="1771.4" y1="364.9" x2="1804.7" y2="364.9" stroke="#555" stroke-width="1.5"/>
<text class="st" x="1781.3" y="368.03" font-size="30.5" text-anchor="middle" fill="#161616">*</text>
<text class="st" x="1795.7" y="368.03" font-size="30.5" text-anchor="middle" fill="#161616">*</text>
<line x1="1849.7" y1="469.9" x2="1876.9" y2="469.9" stroke="#555" stroke-width="1.5"/>
<text class="st" x="1856" y="473.53" font-size="30.5" text-anchor="middle" fill="#161616">*</text>
<text class="st" x="1870.4" y="473.53" font-size="30.5" text-anchor="middle" fill="#161616">*</text>
<line x1="1924.6" y1="526" x2="1953.2" y2="526" stroke="#555" stroke-width="1.5"/>
<circle cx="1543.7" cy="495.3" r="5.8" fill="#121412"/>
<circle cx="1552.4" cy="495.3" r="5.8" fill="#121412"/>
<circle cx="1548.2" cy="512.1" r="5.8" fill="#121412"/>
<circle cx="1572" cy="422.7" r="5.8" fill="#121412"/>
<circle cx="1576" cy="421" r="5.8" fill="#121412"/>
<circle cx="1580" cy="423" r="5.8" fill="#121412"/>
<circle cx="1619.5" cy="497.8" r="5.8" fill="#121412"/>
<circle cx="1627.5" cy="501.2" r="5.8" fill="#121412"/>
<circle cx="1623.2" cy="521.3" r="5.8" fill="#121412"/>
<circle cx="1653" cy="424.4" r="5.8" fill="#121412"/>
<circle cx="1647.6" cy="431.1" r="5.8" fill="#121412"/>
<circle cx="1655.5" cy="425.2" r="5.8" fill="#121412"/>
<circle cx="1698.2" cy="464.8" r="5.8" fill="#121412"/>
<circle cx="1694.9" cy="470.2" r="5.8" fill="#121412"/>
<circle cx="1702.4" cy="469.8" r="5.8" fill="#121412"/>
<circle cx="1726.7" cy="438.6" r="5.8" fill="#121412"/>
<circle cx="1723.4" cy="442" r="5.8" fill="#121412"/>
<circle cx="1730.9" cy="440.3" r="5.8" fill="#121412"/>
<circle cx="1770.5" cy="392.7" r="5.8" fill="#121412"/>
<circle cx="1774.7" cy="391.3" r="5.8" fill="#121412"/>
<circle cx="1778.3" cy="392.7" r="5.8" fill="#121412"/>
<circle cx="1798.3" cy="380.2" r="5.8" fill="#121412"/>
<circle cx="1803.3" cy="380.2" r="5.8" fill="#121412"/>
<circle cx="1806.6" cy="381.6" r="5.8" fill="#121412"/>
<circle cx="1845.5" cy="523.7" r="5.8" fill="#121412"/>
<circle cx="1853" cy="527.3" r="5.8" fill="#121412"/>
<circle cx="1849.7" cy="546" r="5.8" fill="#121412"/>
<circle cx="1874.1" cy="492.1" r="5.8" fill="#121412"/>
<circle cx="1881.6" cy="495.4" r="5.8" fill="#121412"/>
<circle cx="1874.1" cy="505.1" r="5.8" fill="#121412"/>
<circle cx="1920.5" cy="605" r="5.8" fill="#121412"/>
<circle cx="1924.6" cy="600.9" r="5.8" fill="#121412"/>
<circle cx="1929.6" cy="605" r="5.8" fill="#121412"/>
<circle cx="1952.4" cy="570.9" r="5.8" fill="#121412"/>
<circle cx="1956" cy="588.4" r="5.8" fill="#121412"/>
<circle cx="1948.8" cy="598.7" r="5.8" fill="#121412"/>
<g transform="translate(1540.7,649.5)" fill="#161616"><text xml:space="preserve" x="-0.77" y="0" font-size="22" font-style="italic" textLength="45.62" lengthAdjust="spacingAndGlyphs">IFIT1</text></g>
<g transform="translate(1606.9,649.5)" fill="#161616"><text xml:space="preserve" x="-1.47" y="0" font-size="22" font-style="italic" textLength="62.39" lengthAdjust="spacingAndGlyphs">USP18</text></g>
<g transform="translate(1691.5,649.5)" fill="#161616"><text xml:space="preserve" x="-0.77" y="0" font-size="22" font-style="italic" textLength="42.07" lengthAdjust="spacingAndGlyphs">IRF7</text></g>
<g transform="translate(1762.2,649.5)" fill="#161616"><text xml:space="preserve" x="-1.12" y="0" font-size="22" font-style="italic" textLength="55.06" lengthAdjust="spacingAndGlyphs">OAS1</text></g>
<g transform="translate(1830.2,649.5)" fill="#161616"><text xml:space="preserve" x="-0.62" y="0" font-size="22" font-style="italic" textLength="66.71" lengthAdjust="spacingAndGlyphs">RSAD2</text></g>
<g transform="translate(1906,649.5)" fill="#161616"><text xml:space="preserve" x="-0.85" y="0" font-size="22" font-style="italic" textLength="65.73" lengthAdjust="spacingAndGlyphs">IFNL3-</text></g>
<g transform="translate(1921.5,675.9)" fill="#161616"><text xml:space="preserve" x="-1.6" y="0" font-size="22" textLength="35.66" lengthAdjust="spacingAndGlyphs">like</text></g>
<g transform="translate(1926,513.5)" fill="#161616"><text xml:space="preserve" x="-2.17" y="0" font-size="26.5" textLength="36.68" lengthAdjust="spacingAndGlyphs">NS</text></g>
<g transform="translate(823,550.3) rotate(-90)" fill="#161616"><text xml:space="preserve" x="-2.13" y="0" font-size="26.5" textLength="177.68" lengthAdjust="spacingAndGlyphs">Relative mRNA</text></g>
<g transform="translate(1450.2,549.8) rotate(-90)" fill="#161616"><text xml:space="preserve" x="-2.14" y="0" font-size="26.5" textLength="177.99" lengthAdjust="spacingAndGlyphs">Relative mRNA</text></g>
<rect x="1939" y="276.6" width="22.5" height="21.7" fill="#fff" stroke="#555" stroke-width="1.3"/>
<rect x="1939" y="316" width="22.5" height="21.7" fill="#dc3727" stroke="#555" stroke-width="1.3"/>
<g transform="translate(1974.6,296.4)" fill="#161616"><text xml:space="preserve" x="-2.43" y="0" font-size="26.5" textLength="72.36" lengthAdjust="spacingAndGlyphs">IFNα2</text></g>
<g transform="translate(1974.6,335.8)" fill="#161616"><text xml:space="preserve" x="-2.26" y="0" font-size="26.5" textLength="65.36" lengthAdjust="spacingAndGlyphs">IFNλ1</text></g>
<g transform="translate(791,728.8)" fill="#111"><text xml:space="preserve" x="-0.81" y="0" font-size="38" font-weight="bold" textLength="15.71" lengthAdjust="spacingAndGlyphs">f</text></g>
<g transform="translate(1105,738.6)" fill="#161616"><text xml:space="preserve" x="-1.12" y="0" font-size="26.5" textLength="39.99" lengthAdjust="spacingAndGlyphs">0 h</text></g>
<g transform="translate(1725,738.9)" fill="#161616"><text xml:space="preserve" x="-1.37" y="0" font-size="26.5" textLength="52.83" lengthAdjust="spacingAndGlyphs">24 h</text></g>
<line x1="902.7" y1="787.9" x2="902.7" y2="1082.4" stroke="#555" stroke-width="1.3"/>
<line x1="891.7" y1="787.9" x2="902.7" y2="787.9" stroke="#444" stroke-width="1.3"/>
<g transform="translate(872.69,784.3)" fill="#161616"><text xml:space="preserve" x="-0.52" y="0" font-size="13.2" textLength="7.34" lengthAdjust="spacingAndGlyphs">0</text></g>
<g transform="translate(848.55,795.7)" fill="#161616"><text xml:space="preserve" x="-1.68" y="0" font-size="22" textLength="24.47" lengthAdjust="spacingAndGlyphs">10</text></g>
<line x1="891.7" y1="846.8" x2="902.7" y2="846.8" stroke="#444" stroke-width="1.3"/>
<g transform="translate(866.21,843.2)" fill="#161616"><text xml:space="preserve" x="-0.61" y="0" font-size="13.2" textLength="14" lengthAdjust="spacingAndGlyphs">−1</text></g>
<g transform="translate(842.07,854.6)" fill="#161616"><text xml:space="preserve" x="-1.68" y="0" font-size="22" textLength="24.47" lengthAdjust="spacingAndGlyphs">10</text></g>
<line x1="891.7" y1="905.7" x2="902.7" y2="905.7" stroke="#444" stroke-width="1.3"/>
<g transform="translate(866.23,902.1)" fill="#161616"><text xml:space="preserve" x="-0.61" y="0" font-size="13.2" textLength="14" lengthAdjust="spacingAndGlyphs">−2</text></g>
<g transform="translate(842.09,913.5)" fill="#161616"><text xml:space="preserve" x="-1.68" y="0" font-size="22" textLength="24.47" lengthAdjust="spacingAndGlyphs">10</text></g>
<line x1="891.7" y1="964.6" x2="902.7" y2="964.6" stroke="#444" stroke-width="1.3"/>
<g transform="translate(866.15,961)" fill="#161616"><text xml:space="preserve" x="-0.61" y="0" font-size="13.2" textLength="14" lengthAdjust="spacingAndGlyphs">−3</text></g>
<g transform="translate(842.01,972.4)" fill="#161616"><text xml:space="preserve" x="-1.68" y="0" font-size="22" textLength="24.47" lengthAdjust="spacingAndGlyphs">10</text></g>
<line x1="891.7" y1="1023.5" x2="902.7" y2="1023.5" stroke="#444" stroke-width="1.3"/>
<g transform="translate(865.97,1019.9)" fill="#161616"><text xml:space="preserve" x="-0.61" y="0" font-size="13.2" textLength="14" lengthAdjust="spacingAndGlyphs">−4</text></g>
<g transform="translate(841.83,1031.3)" fill="#161616"><text xml:space="preserve" x="-1.68" y="0" font-size="22" textLength="24.47" lengthAdjust="spacingAndGlyphs">10</text></g>
<line x1="891.7" y1="1082.4" x2="902.7" y2="1082.4" stroke="#444" stroke-width="1.3"/>
<g transform="translate(866.12,1078.8)" fill="#161616"><text xml:space="preserve" x="-0.61" y="0" font-size="13.2" textLength="14" lengthAdjust="spacingAndGlyphs">−5</text></g>
<g transform="translate(841.99,1090.2)" fill="#161616"><text xml:space="preserve" x="-1.68" y="0" font-size="22" textLength="24.47" lengthAdjust="spacingAndGlyphs">10</text></g>
<line x1="891.7" y1="1082.4" x2="1344.4" y2="1082.4" stroke="#444" stroke-width="1.3"/>
<rect x="912.6" y="817.1" width="17.7" height="265.3" fill="#fff" stroke="#444" stroke-width="1.1"/>
<rect x="941.1" y="856.5" width="17.2" height="225.9" fill="#dc3727" stroke="#6a6a6a" stroke-width="1.1"/>
<line x1="935.3" y1="1082.4" x2="935.3" y2="1093.7" stroke="#555" stroke-width="1.3"/>
<rect x="988.1" y="882.1" width="17.7" height="200.3" fill="#fff" stroke="#444" stroke-width="1.1"/>
<rect x="1016.6" y="920.1" width="17.2" height="162.3" fill="#dc3727" stroke="#6a6a6a" stroke-width="1.1"/>
<line x1="1010.8" y1="1082.4" x2="1010.8" y2="1093.7" stroke="#555" stroke-width="1.3"/>
<rect x="1063.5" y="903.2" width="17.7" height="179.2" fill="#fff" stroke="#444" stroke-width="1.1"/>
<rect x="1092" y="941.2" width="17.2" height="141.2" fill="#dc3727" stroke="#6a6a6a" stroke-width="1.1"/>
<line x1="1086.2" y1="1082.4" x2="1086.2" y2="1093.7" stroke="#555" stroke-width="1.3"/>
<rect x="1138.5" y="855.9" width="17.7" height="226.5" fill="#fff" stroke="#444" stroke-width="1.1"/>
<rect x="1167" y="882.1" width="17.2" height="200.3" fill="#dc3727" stroke="#6a6a6a" stroke-width="1.1"/>
<line x1="1161.2" y1="1082.4" x2="1161.2" y2="1093.7" stroke="#555" stroke-width="1.3"/>
<rect x="1213.6" y="912.6" width="17.7" height="169.8" fill="#fff" stroke="#444" stroke-width="1.1"/>
<rect x="1242.1" y="970.4" width="17.2" height="112" fill="#dc3727" stroke="#6a6a6a" stroke-width="1.1"/>
<line x1="1236.3" y1="1082.4" x2="1236.3" y2="1093.7" stroke="#555" stroke-width="1.3"/>
<rect x="1288.4" y="950.7" width="17.7" height="131.7" fill="#fff" stroke="#444" stroke-width="1.1"/>
<rect x="1316.9" y="1017.6" width="17.2" height="64.8" fill="#dc3727" stroke="#6a6a6a" stroke-width="1.1"/>
<line x1="1311.1" y1="1082.4" x2="1311.1" y2="1093.7" stroke="#555" stroke-width="1.3"/>
<line x1="921.4" y1="787.9" x2="951.6" y2="787.9" stroke="#555" stroke-width="1.5"/>
<text class="st" x="922.1" y="791.03" font-size="30.5" text-anchor="middle" fill="#161616">*</text>
<text class="st" x="936.5" y="791.03" font-size="30.5" text-anchor="middle" fill="#161616">*</text>
<text class="st" x="950.9" y="791.03" font-size="30.5" text-anchor="middle" fill="#161616">*</text>
<line x1="994.9" y1="847.5" x2="1024" y2="847.5" stroke="#555" stroke-width="1.5"/>
<text class="st" x="1002.3" y="850.83" font-size="30.5" text-anchor="middle" fill="#161616">*</text>
<text class="st" x="1016.7" y="850.83" font-size="30.5" text-anchor="middle" fill="#161616">*</text>
<line x1="1070.3" y1="868.6" x2="1098.9" y2="868.6" stroke="#555" stroke-width="1.5"/>
<text class="st" x="1077.4" y="874.63" font-size="30.5" text-anchor="middle" fill="#161616">*</text>
<text class="st" x="1091.8" y="874.63" font-size="30.5" text-anchor="middle" fill="#161616">*</text>
<line x1="1144.6" y1="822.7" x2="1177.8" y2="822.7" stroke="#555" stroke-width="1.5"/>
<text class="st" x="1146.8" y="825.23" font-size="30.5" text-anchor="middle" fill="#161616">*</text>
<text class="st" x="1161.2" y="825.23" font-size="30.5" text-anchor="middle" fill="#161616">*</text>
<text class="st" x="1175.6" y="825.23" font-size="30.5" text-anchor="middle" fill="#161616">*</text>
<line x1="1222.6" y1="885.5" x2="1249.7" y2="885.5" stroke="#555" stroke-width="1.5"/>
<text class="st" x="1221.8" y="887.63" font-size="30.5" text-anchor="middle" fill="#161616">*</text>
<text class="st" x="1236.2" y="887.63" font-size="30.5" text-anchor="middle" fill="#161616">*</text>
<text class="st" x="1250.6" y="887.63" font-size="30.5" text-anchor="middle" fill="#161616">*</text>
<line x1="1297.1" y1="917.5" x2="1326" y2="917.5" stroke="#555" stroke-width="1.5"/>
<text class="st" x="1304.3" y="921.33" font-size="30.5" text-anchor="middle" fill="#161616">*</text>
<text class="st" x="1318.7" y="921.33" font-size="30.5" text-anchor="middle" fill="#161616">*</text>
<circle cx="921.4" cy="808.6" r="5.8" fill="#121412"/>
<circle cx="917.8" cy="813.7" r="5.8" fill="#121412"/>
<circle cx="925.3" cy="813.7" r="5.8" fill="#121412"/>
<circle cx="946.4" cy="850.9" r="5.8" fill="#121412"/>
<circle cx="953" cy="855.3" r="5.8" fill="#121412"/>
<circle cx="946.4" cy="863" r="5.8" fill="#121412"/>
<circle cx="996.3" cy="872" r="5.8" fill="#121412"/>
<circle cx="992.9" cy="881.1" r="5.8" fill="#121412"/>
<circle cx="1000.3" cy="880" r="5.8" fill="#121412"/>
<circle cx="1025" cy="915" r="5.8" fill="#121412"/>
<circle cx="1029.5" cy="917.7" r="5.8" fill="#121412"/>
<circle cx="1021" cy="926.2" r="5.8" fill="#121412"/>
<circle cx="1068.1" cy="898.2" r="5.8" fill="#121412"/>
<circle cx="1075.8" cy="901.2" r="5.8" fill="#121412"/>
<circle cx="1068.1" cy="910.3" r="5.8" fill="#121412"/>
<circle cx="1099.9" cy="933.8" r="5.8" fill="#121412"/>
<circle cx="1096.9" cy="939.2" r="5.8" fill="#121412"/>
<circle cx="1103.9" cy="939.2" r="5.8" fill="#121412"/>
<circle cx="1147.2" cy="847.9" r="5.8" fill="#121412"/>
<circle cx="1143.2" cy="852.9" r="5.8" fill="#121412"/>
<circle cx="1151.2" cy="852.9" r="5.8" fill="#121412"/>
<circle cx="1175.4" cy="878.7" r="5.8" fill="#121412"/>
<circle cx="1180.4" cy="880.7" r="5.8" fill="#121412"/>
<circle cx="1172" cy="885.1" r="5.8" fill="#121412"/>
<circle cx="1218.4" cy="910.1" r="5.8" fill="#121412"/>
<circle cx="1222.6" cy="906.4" r="5.8" fill="#121412"/>
<circle cx="1227.5" cy="910.1" r="5.8" fill="#121412"/>
<circle cx="1247.2" cy="962.3" r="5.8" fill="#121412"/>
<circle cx="1254.6" cy="969.6" r="5.8" fill="#121412"/>
<circle cx="1247.2" cy="977.8" r="5.8" fill="#121412"/>
<circle cx="1294" cy="943.3" r="5.8" fill="#121412"/>
<circle cx="1301.3" cy="951.4" r="5.8" fill="#121412"/>
<circle cx="1294" cy="956.9" r="5.8" fill="#121412"/>
<circle cx="1325.2" cy="1005.6" r="5.8" fill="#121412"/>
<circle cx="1329.1" cy="1020.3" r="5.8" fill="#121412"/>
<circle cx="1322.2" cy="1031.2" r="5.8" fill="#121412"/>
<g transform="translate(913.8,1121.3)" fill="#161616"><text xml:space="preserve" x="-0.79" y="0" font-size="22" font-style="italic" textLength="46.68" lengthAdjust="spacingAndGlyphs">IFIT1</text></g>
<g transform="translate(980,1121.3)" fill="#161616"><text xml:space="preserve" x="-1.49" y="0" font-size="22" font-style="italic" textLength="63.1" lengthAdjust="spacingAndGlyphs">USP18</text></g>
<g transform="translate(1064.7,1121.3)" fill="#161616"><text xml:space="preserve" x="-0.78" y="0" font-size="22" font-style="italic" textLength="42.47" lengthAdjust="spacingAndGlyphs">IRF7</text></g>
<g transform="translate(1136,1121.3)" fill="#161616"><text xml:space="preserve" x="-1.08" y="0" font-size="22" font-style="italic" textLength="53.16" lengthAdjust="spacingAndGlyphs">OAS1</text></g>
<g transform="translate(1203.2,1121.3)" fill="#161616"><text xml:space="preserve" x="-0.62" y="0" font-size="22" font-style="italic" textLength="66.91" lengthAdjust="spacingAndGlyphs">RSAD2</text></g>
<g transform="translate(1279.5,1121.3)" fill="#161616"><text xml:space="preserve" x="-0.84" y="0" font-size="22" font-style="italic" textLength="64.82" lengthAdjust="spacingAndGlyphs">IFNL3-</text></g>
<g transform="translate(1295,1146.3)" fill="#161616"><text xml:space="preserve" x="-1.6" y="0" font-size="22" textLength="35.66" lengthAdjust="spacingAndGlyphs">like</text></g>
<line x1="1529" y1="787.2" x2="1529" y2="1082.4" stroke="#555" stroke-width="1.3"/>
<line x1="1518" y1="787.2" x2="1529" y2="787.2" stroke="#444" stroke-width="1.3"/>
<g transform="translate(1500.49,783.6)" fill="#161616"><text xml:space="preserve" x="-0.52" y="0" font-size="13.2" textLength="7.34" lengthAdjust="spacingAndGlyphs">0</text></g>
<g transform="translate(1476.35,795)" fill="#161616"><text xml:space="preserve" x="-1.68" y="0" font-size="22" textLength="24.47" lengthAdjust="spacingAndGlyphs">10</text></g>
<line x1="1518" y1="836.4" x2="1529" y2="836.4" stroke="#444" stroke-width="1.3"/>
<g transform="translate(1494.01,832.8)" fill="#161616"><text xml:space="preserve" x="-0.61" y="0" font-size="13.2" textLength="14" lengthAdjust="spacingAndGlyphs">−1</text></g>
<g transform="translate(1469.87,844.2)" fill="#161616"><text xml:space="preserve" x="-1.68" y="0" font-size="22" textLength="24.47" lengthAdjust="spacingAndGlyphs">10</text></g>
<line x1="1518" y1="885.6" x2="1529" y2="885.6" stroke="#444" stroke-width="1.3"/>
<g transform="translate(1494.03,882)" fill="#161616"><text xml:space="preserve" x="-0.61" y="0" font-size="13.2" textLength="14" lengthAdjust="spacingAndGlyphs">−2</text></g>
<g transform="translate(1469.89,893.4)" fill="#161616"><text xml:space="preserve" x="-1.68" y="0" font-size="22" textLength="24.47" lengthAdjust="spacingAndGlyphs">10</text></g>
<line x1="1518" y1="934.8" x2="1529" y2="934.8" stroke="#444" stroke-width="1.3"/>
<g transform="translate(1493.95,931.2)" fill="#161616"><text xml:space="preserve" x="-0.61" y="0" font-size="13.2" textLength="14" lengthAdjust="spacingAndGlyphs">−3</text></g>
<g transform="translate(1469.81,942.6)" fill="#161616"><text xml:space="preserve" x="-1.68" y="0" font-size="22" textLength="24.47" lengthAdjust="spacingAndGlyphs">10</text></g>
<line x1="1518" y1="984" x2="1529" y2="984" stroke="#444" stroke-width="1.3"/>
<g transform="translate(1493.77,980.4)" fill="#161616"><text xml:space="preserve" x="-0.61" y="0" font-size="13.2" textLength="14" lengthAdjust="spacingAndGlyphs">−4</text></g>
<g transform="translate(1469.63,991.8)" fill="#161616"><text xml:space="preserve" x="-1.68" y="0" font-size="22" textLength="24.47" lengthAdjust="spacingAndGlyphs">10</text></g>
<line x1="1518" y1="1033.2" x2="1529" y2="1033.2" stroke="#444" stroke-width="1.3"/>
<g transform="translate(1493.92,1029.6)" fill="#161616"><text xml:space="preserve" x="-0.61" y="0" font-size="13.2" textLength="14" lengthAdjust="spacingAndGlyphs">−5</text></g>
<g transform="translate(1469.79,1041)" fill="#161616"><text xml:space="preserve" x="-1.68" y="0" font-size="22" textLength="24.47" lengthAdjust="spacingAndGlyphs">10</text></g>
<line x1="1518" y1="1082.4" x2="1529" y2="1082.4" stroke="#444" stroke-width="1.3"/>
<g transform="translate(1493.95,1078.8)" fill="#161616"><text xml:space="preserve" x="-0.61" y="0" font-size="13.2" textLength="14" lengthAdjust="spacingAndGlyphs">−6</text></g>
<g transform="translate(1469.81,1090.2)" fill="#161616"><text xml:space="preserve" x="-1.68" y="0" font-size="22" textLength="24.47" lengthAdjust="spacingAndGlyphs">10</text></g>
<line x1="1518" y1="1082.4" x2="1970.5" y2="1082.4" stroke="#444" stroke-width="1.3"/>
<rect x="1539.5" y="943.2" width="17.5" height="139.2" fill="#fff" stroke="#444" stroke-width="1.1"/>
<rect x="1567.8" y="869.3" width="17.7" height="213.1" fill="#dc3727" stroke="#6a6a6a" stroke-width="1.1"/>
<line x1="1562.5" y1="1082.4" x2="1562.5" y2="1093.7" stroke="#555" stroke-width="1.3"/>
<rect x="1614.4" y="993.9" width="17.5" height="88.5" fill="#fff" stroke="#444" stroke-width="1.1"/>
<rect x="1642.7" y="915.4" width="17.7" height="167" fill="#dc3727" stroke="#6a6a6a" stroke-width="1.1"/>
<line x1="1637.4" y1="1082.4" x2="1637.4" y2="1093.7" stroke="#555" stroke-width="1.3"/>
<rect x="1689.5" y="968.7" width="17.5" height="113.7" fill="#fff" stroke="#444" stroke-width="1.1"/>
<rect x="1717.8" y="917.1" width="17.7" height="165.3" fill="#dc3727" stroke="#6a6a6a" stroke-width="1.1"/>
<line x1="1712.5" y1="1082.4" x2="1712.5" y2="1093.7" stroke="#555" stroke-width="1.3"/>
<rect x="1764.8" y="905.9" width="17.5" height="176.5" fill="#fff" stroke="#444" stroke-width="1.1"/>
<rect x="1793.1" y="883.1" width="17.7" height="199.3" fill="#dc3727" stroke="#6a6a6a" stroke-width="1.1"/>
<line x1="1787.8" y1="1082.4" x2="1787.8" y2="1093.7" stroke="#555" stroke-width="1.3"/>
<rect x="1840" y="1068.5" width="17.5" height="13.9" fill="#fff" stroke="#444" stroke-width="1.1"/>
<rect x="1868.3" y="998.1" width="17.7" height="84.3" fill="#dc3727" stroke="#6a6a6a" stroke-width="1.1"/>
<line x1="1863" y1="1082.4" x2="1863" y2="1093.7" stroke="#555" stroke-width="1.3"/>
<rect x="1915.5" y="1069.1" width="17.5" height="13.3" fill="#fff" stroke="#444" stroke-width="1.1"/>
<rect x="1943.8" y="1026.5" width="17.7" height="55.9" fill="#dc3727" stroke="#6a6a6a" stroke-width="1.1"/>
<line x1="1938.5" y1="1082.4" x2="1938.5" y2="1093.7" stroke="#555" stroke-width="1.3"/>
<line x1="1547" y1="837.4" x2="1577.9" y2="837.4" stroke="#555" stroke-width="1.5"/>
<text class="st" x="1541.9" y="840.53" font-size="30.5" text-anchor="middle" fill="#161616">*</text>
<text class="st" x="1556.3" y="840.53" font-size="30.5" text-anchor="middle" fill="#161616">*</text>
<text class="st" x="1570.7" y="840.53" font-size="30.5" text-anchor="middle" fill="#161616">*</text>
<text class="st" x="1585.1" y="840.53" font-size="30.5" text-anchor="middle" fill="#161616">*</text>
<line x1="1620.8" y1="884.4" x2="1650.8" y2="884.4" stroke="#555" stroke-width="1.5"/>
<text class="st" x="1621.6" y="889.13" font-size="30.5" text-anchor="middle" fill="#161616">*</text>
<text class="st" x="1636" y="889.13" font-size="30.5" text-anchor="middle" fill="#161616">*</text>
<text class="st" x="1650.4" y="889.13" font-size="30.5" text-anchor="middle" fill="#161616">*</text>
<line x1="1696.2" y1="893.9" x2="1724.7" y2="893.9" stroke="#555" stroke-width="1.5"/>
<text class="st" x="1710.5" y="897.53" font-size="30.5" text-anchor="middle" fill="#161616">*</text>
<line x1="1771.2" y1="855.6" x2="1803" y2="855.6" stroke="#555" stroke-width="1.5"/>
<text class="st" x="1779.8" y="860.43" font-size="30.5" text-anchor="middle" fill="#161616">*</text>
<text class="st" x="1794.2" y="860.43" font-size="30.5" text-anchor="middle" fill="#161616">*</text>
<line x1="1849.3" y1="964" x2="1875.7" y2="964" stroke="#555" stroke-width="1.5"/>
<text class="st" x="1855.3" y="969.73" font-size="30.5" text-anchor="middle" fill="#161616">*</text>
<text class="st" x="1869.7" y="969.73" font-size="30.5" text-anchor="middle" fill="#161616">*</text>
<line x1="1923.7" y1="998.1" x2="1952.4" y2="998.1" stroke="#555" stroke-width="1.5"/>
<text class="st" x="1930.8" y="1003.83" font-size="30.5" text-anchor="middle" fill="#161616">*</text>
<text class="st" x="1945.2" y="1003.83" font-size="30.5" text-anchor="middle" fill="#161616">*</text>
<circle cx="1547.4" cy="936" r="5.8" fill="#121412"/>
<circle cx="1543.7" cy="943.2" r="5.8" fill="#121412"/>
<circle cx="1551.6" cy="940.7" r="5.8" fill="#121412"/>
<circle cx="1575.5" cy="861.7" r="5.8" fill="#121412"/>
<circle cx="1571.7" cy="867.6" r="5.8" fill="#121412"/>
<circle cx="1579.6" cy="868" r="5.8" fill="#121412"/>
<circle cx="1622.8" cy="981.8" r="5.8" fill="#121412"/>
<circle cx="1619.1" cy="992.2" r="5.8" fill="#121412"/>
<circle cx="1626.5" cy="991" r="5.8" fill="#121412"/>
<circle cx="1651" cy="907.5" r="5.8" fill="#121412"/>
<circle cx="1647.5" cy="915.4" r="5.8" fill="#121412"/>
<circle cx="1654.3" cy="913" r="5.8" fill="#121412"/>
<circle cx="1698.2" cy="963.4" r="5.8" fill="#121412"/>
<circle cx="1694.6" cy="970.4" r="5.8" fill="#121412"/>
<circle cx="1702.4" cy="967" r="5.8" fill="#121412"/>
<circle cx="1723" cy="908" r="5.8" fill="#121412"/>
<circle cx="1730.1" cy="919.3" r="5.8" fill="#121412"/>
<circle cx="1723" cy="927.7" r="5.8" fill="#121412"/>
<circle cx="1768.4" cy="904.4" r="5.8" fill="#121412"/>
<circle cx="1773.5" cy="903.9" r="5.8" fill="#121412"/>
<circle cx="1777.5" cy="904.4" r="5.8" fill="#121412"/>
<circle cx="1801" cy="877.5" r="5.8" fill="#121412"/>
<circle cx="1798.2" cy="881.7" r="5.8" fill="#121412"/>
<circle cx="1805.3" cy="881.7" r="5.8" fill="#121412"/>
<circle cx="1848.7" cy="1054.9" r="5.8" fill="#121412"/>
<circle cx="1845.1" cy="1079" r="5.8" fill="#121412"/>
<circle cx="1852.2" cy="1077" r="5.8" fill="#121412"/>
<circle cx="1873.4" cy="992.4" r="5.8" fill="#121412"/>
<circle cx="1880.5" cy="998.1" r="5.8" fill="#121412"/>
<circle cx="1873.4" cy="1003.8" r="5.8" fill="#121412"/>
<circle cx="1919.7" cy="1068.5" r="5.8" fill="#121412"/>
<circle cx="1924" cy="1067.7" r="5.8" fill="#121412"/>
<circle cx="1928.2" cy="1068.5" r="5.8" fill="#121412"/>
<circle cx="1949.3" cy="1023.7" r="5.8" fill="#121412"/>
<circle cx="1955.8" cy="1025.1" r="5.8" fill="#121412"/>
<circle cx="1948.1" cy="1037" r="5.8" fill="#121412"/>
<g transform="translate(1540.7,1121.3)" fill="#161616"><text xml:space="preserve" x="-0.77" y="0" font-size="22" font-style="italic" textLength="45.62" lengthAdjust="spacingAndGlyphs">IFIT1</text></g>
<g transform="translate(1606.9,1121.3)" fill="#161616"><text xml:space="preserve" x="-1.47" y="0" font-size="22" font-style="italic" textLength="62.39" lengthAdjust="spacingAndGlyphs">USP18</text></g>
<g transform="translate(1691.5,1121.3)" fill="#161616"><text xml:space="preserve" x="-0.77" y="0" font-size="22" font-style="italic" textLength="42.07" lengthAdjust="spacingAndGlyphs">IRF7</text></g>
<g transform="translate(1762.2,1121.3)" fill="#161616"><text xml:space="preserve" x="-1.12" y="0" font-size="22" font-style="italic" textLength="55.06" lengthAdjust="spacingAndGlyphs">OAS1</text></g>
<g transform="translate(1830.2,1121.3)" fill="#161616"><text xml:space="preserve" x="-0.62" y="0" font-size="22" font-style="italic" textLength="66.71" lengthAdjust="spacingAndGlyphs">RSAD2</text></g>
<g transform="translate(1906,1121.3)" fill="#161616"><text xml:space="preserve" x="-0.85" y="0" font-size="22" font-style="italic" textLength="65.73" lengthAdjust="spacingAndGlyphs">IFNL3-</text></g>
<g transform="translate(1921.5,1146.3)" fill="#161616"><text xml:space="preserve" x="-1.6" y="0" font-size="22" textLength="35.66" lengthAdjust="spacingAndGlyphs">like</text></g>
<g transform="translate(823,1021.7) rotate(-90)" fill="#161616"><text xml:space="preserve" x="-2.14" y="0" font-size="26.5" textLength="177.99" lengthAdjust="spacingAndGlyphs">Relative mRNA</text></g>
<g transform="translate(1450.2,1021.5) rotate(-90)" fill="#161616"><text xml:space="preserve" x="-2.13" y="0" font-size="26.5" textLength="177.89" lengthAdjust="spacingAndGlyphs">Relative mRNA</text></g>
<rect x="1939.3" y="754.4" width="22.2" height="21.7" fill="#fff" stroke="#555" stroke-width="1.3"/>
<rect x="1939.3" y="794.2" width="22.2" height="21.6" fill="#dc3727" stroke="#555" stroke-width="1.3"/>
<g transform="translate(1975.1,774.4)" fill="#161616"><text xml:space="preserve" x="-2.41" y="0" font-size="26.5" textLength="71.83" lengthAdjust="spacingAndGlyphs">IFNα2</text></g>
<g transform="translate(1975.1,813.6)" fill="#161616"><text xml:space="preserve" x="-2.35" y="0" font-size="26.5" textLength="114.79" lengthAdjust="spacingAndGlyphs">IFNλ1-like</text></g>
<g transform="translate(1.3,1189.6)" fill="#111"><text xml:space="preserve" x="-1.91" y="0" font-size="38" font-weight="bold" textLength="28.42" lengthAdjust="spacingAndGlyphs">g</text></g>
<line x1="152.3" y1="1225.7" x2="152.3" y2="1543.5" stroke="#666" stroke-width="1.3"/>
<line x1="140" y1="1225.7" x2="152.3" y2="1225.7" stroke="#555" stroke-width="1.3"/>
<g transform="translate(74.88,1233.7)" fill="#161616"><text xml:space="preserve" x="-1.68" y="0" font-size="22" textLength="55.05" lengthAdjust="spacingAndGlyphs">1,000</text></g>
<line x1="140" y1="1289.26" x2="152.3" y2="1289.26" stroke="#555" stroke-width="1.3"/>
<g transform="translate(93.23,1297.26)" fill="#161616"><text xml:space="preserve" x="-1.68" y="0" font-size="22" textLength="36.71" lengthAdjust="spacingAndGlyphs">100</text></g>
<line x1="140" y1="1352.82" x2="152.3" y2="1352.82" stroke="#555" stroke-width="1.3"/>
<g transform="translate(105.46,1360.82)" fill="#161616"><text xml:space="preserve" x="-1.68" y="0" font-size="22" textLength="24.47" lengthAdjust="spacingAndGlyphs">10</text></g>
<line x1="140" y1="1416.38" x2="152.3" y2="1416.38" stroke="#555" stroke-width="1.3"/>
<g transform="translate(117.91,1424.38)" fill="#161616"><text xml:space="preserve" x="-1.68" y="0" font-size="22" textLength="12.24" lengthAdjust="spacingAndGlyphs">1</text></g>
<line x1="140" y1="1479.94" x2="152.3" y2="1479.94" stroke="#555" stroke-width="1.3"/>
<g transform="translate(98.75,1487.94)" fill="#161616"><text xml:space="preserve" x="-0.86" y="0" font-size="22" textLength="30.58" lengthAdjust="spacingAndGlyphs">0.1</text></g>
<line x1="138.9" y1="1543.5" x2="505.1" y2="1543.5" stroke="#555" stroke-width="1.3"/>
<line x1="239.2" y1="1543.5" x2="239.2" y2="1555.5" stroke="#777" stroke-width="1.3"/>
<line x1="428.7" y1="1543.5" x2="428.7" y2="1555.5" stroke="#777" stroke-width="1.3"/>
<rect x="165.7" y="1299.4" width="26.8" height="244.1" fill="#4a4644" stroke="#3a3a3a" stroke-width="1.1"/>
<rect x="206.5" y="1300" width="26.3" height="243.5" fill="#c4c5c4" stroke="#666" stroke-width="1.1"/>
<rect x="247.3" y="1377.2" width="26.2" height="166.3" fill="#e0e1e0" stroke="#444" stroke-width="1.1"/>
<rect x="287.7" y="1417.4" width="26.6" height="126.1" fill="#fff" stroke="#444" stroke-width="1.1"/>
<rect x="355.5" y="1276.1" width="27.1" height="267.4" fill="#4a4644" stroke="#3a3a3a" stroke-width="1.1"/>
<rect x="396.5" y="1289.5" width="26.9" height="254" fill="#c4c5c4" stroke="#666" stroke-width="1.1"/>
<rect x="437.3" y="1366.5" width="26.3" height="177" fill="#e0e1e0" stroke="#555" stroke-width="1.1"/>
<rect x="478.3" y="1417.4" width="26.3" height="126.1" fill="#fff" stroke="#444" stroke-width="1.1"/>
<circle cx="171.6" cy="1290.6" r="6.3" fill="#121412"/>
<circle cx="186.9" cy="1298.9" r="6.3" fill="#121412"/>
<circle cx="179.1" cy="1312" r="6.3" fill="#121412"/>
<circle cx="212.7" cy="1292" r="6.3" fill="#121412"/>
<circle cx="227.1" cy="1300" r="6.3" fill="#121412"/>
<circle cx="212.7" cy="1309.6" r="6.3" fill="#121412"/>
<circle cx="260.7" cy="1365.1" r="6.3" fill="#121412"/>
<circle cx="267.6" cy="1380.4" r="6.3" fill="#121412"/>
<circle cx="253.4" cy="1389.3" r="6.3" fill="#121412"/>
<circle cx="294.2" cy="1408" r="6.3" fill="#121412"/>
<circle cx="308.9" cy="1416.9" r="6.3" fill="#121412"/>
<circle cx="294.2" cy="1428.2" r="6.3" fill="#121412"/>
<circle cx="361.7" cy="1267.8" r="6.3" fill="#121412"/>
<circle cx="376.4" cy="1268.6" r="6.3" fill="#121412"/>
<circle cx="369.2" cy="1299.4" r="6.3" fill="#121412"/>
<circle cx="409.4" cy="1283.4" r="6.3" fill="#121412"/>
<circle cx="402.7" cy="1292" r="6.3" fill="#121412"/>
<circle cx="416.7" cy="1290" r="6.3" fill="#121412"/>
<circle cx="450.7" cy="1356.3" r="6.3" fill="#121412"/>
<circle cx="443.5" cy="1372.4" r="6.3" fill="#121412"/>
<circle cx="458.2" cy="1372.4" r="6.3" fill="#121412"/>
<circle cx="491.2" cy="1401.4" r="6.3" fill="#121412"/>
<circle cx="484.2" cy="1430.3" r="6.3" fill="#121412"/>
<circle cx="498.4" cy="1428.7" r="6.3" fill="#121412"/>
<line x1="175.6" y1="1248" x2="299" y2="1248" stroke="#555" stroke-width="1.5"/>
<text class="st" x="223.8" y="1250.73" font-size="30.5" text-anchor="middle" fill="#161616">*</text>
<text class="st" x="238.2" y="1250.73" font-size="30.5" text-anchor="middle" fill="#161616">*</text>
<line x1="220.4" y1="1274" x2="299" y2="1274" stroke="#555" stroke-width="1.5"/>
<text class="st" x="251.8" y="1280.23" font-size="30.5" text-anchor="middle" fill="#161616">*</text>
<text class="st" x="266.2" y="1280.23" font-size="30.5" text-anchor="middle" fill="#161616">*</text>
<line x1="262" y1="1345" x2="299" y2="1345" stroke="#555" stroke-width="1.5"/>
<text class="st" x="278.9" y="1347.23" font-size="30.5" text-anchor="middle" fill="#161616">*</text>
<line x1="369.7" y1="1229.2" x2="492.3" y2="1229.2" stroke="#555" stroke-width="1.5"/>
<text class="st" x="432.7" y="1233.33" font-size="30.5" text-anchor="middle" fill="#161616">*</text>
<line x1="410.5" y1="1259.2" x2="492.3" y2="1259.2" stroke="#555" stroke-width="1.5"/>
<text class="st" x="439.1" y="1264.13" font-size="30.5" text-anchor="middle" fill="#161616">*</text>
<text class="st" x="453.5" y="1264.13" font-size="30.5" text-anchor="middle" fill="#161616">*</text>
<text class="st" x="467.9" y="1264.13" font-size="30.5" text-anchor="middle" fill="#161616">*</text>
<line x1="451.5" y1="1326.3" x2="488.5" y2="1326.3" stroke="#555" stroke-width="1.5"/>
<text class="st" x="469" y="1332.53" font-size="30.5" text-anchor="middle" fill="#161616">*</text>
<g transform="translate(203.8,1582.4)" fill="#161616"><text xml:space="preserve" x="-1.69" y="0" font-size="22" textLength="73.79" lengthAdjust="spacingAndGlyphs">MOI = 1</text></g>
<g transform="translate(384.5,1582.4)" fill="#161616"><text xml:space="preserve" x="-1.71" y="0" font-size="22" textLength="92.03" lengthAdjust="spacingAndGlyphs">MOI = 0.1</text></g>
<rect x="507" y="1224" width="22.3" height="22.4" fill="#4a4644" stroke="#444" stroke-width="1.3"/>
<rect x="507" y="1263.1" width="22.3" height="21.8" fill="#c4c5c4" stroke="#555" stroke-width="1.3"/>
<rect x="507" y="1303.3" width="22.3" height="21.7" fill="#e0e1e0" stroke="#555" stroke-width="1.3"/>
<rect x="507" y="1343.6" width="22.3" height="22.1" fill="#fff" stroke="#555" stroke-width="1.3"/>
<g transform="translate(544,1240.5)" fill="#161616"><text xml:space="preserve" x="-0.7" y="0" font-size="26.5" textLength="80.99" lengthAdjust="spacingAndGlyphs">sgIRF9</text></g>
<g transform="translate(544,1281.2)" fill="#161616"><text xml:space="preserve" x="-0.7" y="0" font-size="26.5" textLength="115.96" lengthAdjust="spacingAndGlyphs">sgIFNAR2</text></g>
<g transform="translate(544,1320.9)" fill="#161616"><text xml:space="preserve" x="-0.67" y="0" font-size="26.5" textLength="107.84" lengthAdjust="spacingAndGlyphs">sgIFNLR1</text></g>
<g transform="translate(544,1361.1)" fill="#161616"><text xml:space="preserve" x="-0.77" y="0" font-size="26.5" textLength="160.84" lengthAdjust="spacingAndGlyphs">sgScrambled</text></g>
<g transform="translate(24,1472.4) rotate(-90)" fill="#161616"><text xml:space="preserve" x="-0.68" y="0" font-size="26.5" font-style="italic" textLength="56.14" lengthAdjust="spacingAndGlyphs">SINV</text><text xml:space="preserve" x="55.46" y="0" font-size="26.5" textLength="6.68" lengthAdjust="spacingAndGlyphs"> </text><text xml:space="preserve" x="62.15" y="0" font-size="26.5" font-style="italic" textLength="54.83" lengthAdjust="spacingAndGlyphs">nsP1</text><text xml:space="preserve" x="116.98" y="0" font-size="26.5" textLength="57.47" lengthAdjust="spacingAndGlyphs"> RNA</text></g>
<g transform="translate(53.4,1502) rotate(-90)" fill="#161616"><text xml:space="preserve" x="-1.68" y="0" font-size="26.5" textLength="238.06" lengthAdjust="spacingAndGlyphs">(% of sgScrambled)</text></g>
<g transform="translate(789.4,1189.5)" fill="#111"><text xml:space="preserve" x="-3.05" y="0" font-size="38" font-weight="bold" textLength="26.65" lengthAdjust="spacingAndGlyphs">h</text></g>
<line x1="917.6" y1="1467" x2="1481" y2="1467" stroke="#111" stroke-width="2.1" stroke-dasharray="9.4 6.4"/>
<line x1="917.6" y1="1519" x2="1481" y2="1519" stroke="#111" stroke-width="2.1" stroke-dasharray="9.4 6.4"/>
<line x1="917.6" y1="1206.1" x2="917.6" y2="1532.2" stroke="#111" stroke-width="1.4"/>
<line x1="904.7" y1="1532.2" x2="917.6" y2="1532.2" stroke="#444" stroke-width="1.3"/>
<g transform="translate(882.08,1539.7)" fill="#161616"><text xml:space="preserve" x="-0.86" y="0" font-size="22" textLength="12.24" lengthAdjust="spacingAndGlyphs">0</text></g>
<line x1="904.7" y1="1466.99" x2="917.6" y2="1466.99" stroke="#777" stroke-width="1.3"/>
<g transform="translate(869.87,1474.49)" fill="#161616"><text xml:space="preserve" x="-0.88" y="0" font-size="22" textLength="24.47" lengthAdjust="spacingAndGlyphs">50</text></g>
<line x1="904.7" y1="1401.78" x2="917.6" y2="1401.78" stroke="#777" stroke-width="1.3"/>
<g transform="translate(858.43,1409.28)" fill="#161616"><text xml:space="preserve" x="-1.68" y="0" font-size="22" textLength="36.71" lengthAdjust="spacingAndGlyphs">100</text></g>
<line x1="904.7" y1="1336.57" x2="917.6" y2="1336.57" stroke="#444" stroke-width="1.3"/>
<g transform="translate(858.43,1344.07)" fill="#161616"><text xml:space="preserve" x="-1.68" y="0" font-size="22" textLength="36.71" lengthAdjust="spacingAndGlyphs">150</text></g>
<line x1="904.7" y1="1271.36" x2="917.6" y2="1271.36" stroke="#444" stroke-width="1.3"/>
<g transform="translate(857.86,1278.86)" fill="#161616"><text xml:space="preserve" x="-1.11" y="0" font-size="22" textLength="36.71" lengthAdjust="spacingAndGlyphs">200</text></g>
<line x1="904.7" y1="1206.15" x2="917.6" y2="1206.15" stroke="#444" stroke-width="1.3"/>
<g transform="translate(857.86,1213.65)" fill="#161616"><text xml:space="preserve" x="-1.11" y="0" font-size="22" textLength="36.71" lengthAdjust="spacingAndGlyphs">250</text></g>
<line x1="904.7" y1="1532.2" x2="1492.9" y2="1532.2" stroke="#666" stroke-width="1.4"/>
<rect x="931.7" y="1525.2" width="26.4" height="7" fill="#fff" stroke="#555" stroke-width="1.2"/>
<line x1="944.9" y1="1532.2" x2="944.9" y2="1544.8" stroke="#444" stroke-width="1.3"/>
<rect x="974.1" y="1485.8" width="26.4" height="46.4" fill="#dc3727" stroke="#666" stroke-width="1.2"/>
<line x1="987.3" y1="1532.2" x2="987.3" y2="1544.8" stroke="#444" stroke-width="1.3"/>
<rect x="1016.2" y="1491.7" width="26.4" height="40.5" fill="#dc3727" stroke="#666" stroke-width="1.2"/>
<line x1="1029.4" y1="1532.2" x2="1029.4" y2="1544.8" stroke="#444" stroke-width="1.3"/>
<rect x="1058.6" y="1402.7" width="26.4" height="129.5" fill="#c4c5c4" stroke="#555" stroke-width="1.2"/>
<line x1="1071.8" y1="1532.2" x2="1071.8" y2="1544.8" stroke="#444" stroke-width="1.3"/>
<rect x="1128.4" y="1529.2" width="26.4" height="3" fill="#fff" stroke="#555" stroke-width="1.2"/>
<line x1="1141.6" y1="1532.2" x2="1141.6" y2="1544.8" stroke="#444" stroke-width="1.3"/>
<rect x="1170.7" y="1514.5" width="26.4" height="17.7" fill="#dc3727" stroke="#666" stroke-width="1.2"/>
<line x1="1183.9" y1="1532.2" x2="1183.9" y2="1544.8" stroke="#444" stroke-width="1.3"/>
<rect x="1212.8" y="1515.3" width="26.4" height="16.9" fill="#dc3727" stroke="#666" stroke-width="1.2"/>
<line x1="1226" y1="1532.2" x2="1226" y2="1544.8" stroke="#444" stroke-width="1.3"/>
<rect x="1255.2" y="1402.7" width="26.4" height="129.5" fill="#c4c5c4" stroke="#555" stroke-width="1.2"/>
<line x1="1268.4" y1="1532.2" x2="1268.4" y2="1544.8" stroke="#444" stroke-width="1.3"/>
<rect x="1324.9" y="1468.9" width="26.4" height="63.3" fill="#fff" stroke="#555" stroke-width="1.2"/>
<line x1="1338.1" y1="1532.2" x2="1338.1" y2="1544.8" stroke="#444" stroke-width="1.3"/>
<rect x="1367" y="1510" width="26.4" height="22.2" fill="#dc3727" stroke="#666" stroke-width="1.2"/>
<line x1="1380.2" y1="1532.2" x2="1380.2" y2="1544.8" stroke="#444" stroke-width="1.3"/>
<rect x="1409.1" y="1504" width="26.4" height="28.2" fill="#dc3727" stroke="#666" stroke-width="1.2"/>
<line x1="1422.3" y1="1532.2" x2="1422.3" y2="1544.8" stroke="#444" stroke-width="1.3"/>
<rect x="1451.5" y="1402.7" width="26.4" height="129.5" fill="#c4c5c4" stroke="#555" stroke-width="1.2"/>
<line x1="1464.7" y1="1532.2" x2="1464.7" y2="1544.8" stroke="#444" stroke-width="1.3"/>
<line x1="936.9" y1="1361.9" x2="1043.6" y2="1361.9" stroke="#333" stroke-width="1.4"/>
<polyline points="993.7,1361.9 993.7,1231.1 1074.4,1231.1 1074.4,1266.5" fill="none" stroke="#777" stroke-width="1.5"/>
<line x1="1062.9" y1="1266.5" x2="1084.9" y2="1266.5" stroke="#777" stroke-width="1.5"/>
<line x1="1130" y1="1362.5" x2="1237.6" y2="1362.5" stroke="#333" stroke-width="1.4"/>
<polyline points="1183.9,1362.5 1183.9,1214.2 1268.4,1214.2 1268.4,1232.9" fill="none" stroke="#777" stroke-width="1.5"/>
<line x1="1256.1" y1="1232.9" x2="1278.3" y2="1232.9" stroke="#777" stroke-width="1.5"/>
<line x1="1326.6" y1="1362.5" x2="1434.7" y2="1362.5" stroke="#333" stroke-width="1.4"/>
<polyline points="1379.4,1362.5 1379.4,1231.1 1464.7,1231.1 1464.7,1248" fill="none" stroke="#777" stroke-width="1.5"/>
<line x1="1453.4" y1="1248" x2="1476" y2="1248" stroke="#777" stroke-width="1.5"/>
<text class="st" x="929.85" y="1395.53" font-size="30.5" text-anchor="middle" fill="#161616">*</text>
<text class="st" x="944.25" y="1395.53" font-size="30.5" text-anchor="middle" fill="#161616">*</text>
<text class="st" x="958.65" y="1395.53" font-size="30.5" text-anchor="middle" fill="#161616">*</text>
<text class="st" x="987.9" y="1395.53" font-size="30.5" text-anchor="middle" fill="#161616">*</text>
<text class="st" x="1022.2" y="1395.53" font-size="30.5" text-anchor="middle" fill="#161616">*</text>
<text class="st" x="1036.6" y="1395.53" font-size="30.5" text-anchor="middle" fill="#161616">*</text>
<text class="st" x="1140.8" y="1395.53" font-size="30.5" text-anchor="middle" fill="#161616">*</text>
<text class="st" x="1182.6" y="1395.53" font-size="30.5" text-anchor="middle" fill="#161616">*</text>
<text class="st" x="1222.6" y="1395.53" font-size="30.5" text-anchor="middle" fill="#161616">*</text>
<text class="st" x="1373.5" y="1395.53" font-size="30.5" text-anchor="middle" fill="#161616">*</text>
<text class="st" x="1387.9" y="1395.53" font-size="30.5" text-anchor="middle" fill="#161616">*</text>
<text class="st" x="1414.6" y="1395.53" font-size="30.5" text-anchor="middle" fill="#161616">*</text>
<text class="st" x="1429" y="1395.53" font-size="30.5" text-anchor="middle" fill="#161616">*</text>
<g transform="translate(1323.9,1385.3)" fill="#161616"><text xml:space="preserve" x="-2.15" y="0" font-size="26.5" textLength="36.35" lengthAdjust="spacingAndGlyphs">NS</text></g>
<circle cx="945.5" cy="1510" r="4.85" fill="#121412"/>
<circle cx="945.5" cy="1524.7" r="4.85" fill="#121412"/>
<circle cx="936.1" cy="1532.2" r="4.85" fill="#121412"/>
<circle cx="954.3" cy="1530" r="4.85" fill="#121412"/>
<circle cx="978.4" cy="1472.4" r="4.85" fill="#121412"/>
<circle cx="996.7" cy="1466.2" r="4.85" fill="#121412"/>
<circle cx="996.7" cy="1478.3" r="4.85" fill="#121412"/>
<circle cx="987.3" cy="1522" r="4.85" fill="#121412"/>
<circle cx="1020.8" cy="1483.1" r="4.85" fill="#121412"/>
<circle cx="1038.8" cy="1480.5" r="4.85" fill="#121412"/>
<circle cx="1020.8" cy="1500.6" r="4.85" fill="#121412"/>
<circle cx="1038.8" cy="1497.4" r="4.85" fill="#121412"/>
<circle cx="1071.8" cy="1357.1" r="4.85" fill="#121412"/>
<circle cx="1071.8" cy="1383.4" r="4.85" fill="#121412"/>
<circle cx="1071.8" cy="1421.5" r="4.85" fill="#121412"/>
<circle cx="1071.8" cy="1446.4" r="4.85" fill="#121412"/>
<circle cx="1132.7" cy="1528.7" r="4.85" fill="#121412"/>
<circle cx="1139.7" cy="1523.4" r="4.85" fill="#121412"/>
<circle cx="1144.2" cy="1526.9" r="4.85" fill="#121412"/>
<circle cx="1151" cy="1527.4" r="4.85" fill="#121412"/>
<circle cx="1183.9" cy="1481.3" r="4.85" fill="#121412"/>
<circle cx="1183.9" cy="1510" r="4.85" fill="#121412"/>
<circle cx="1175.1" cy="1532" r="4.85" fill="#121412"/>
<circle cx="1193" cy="1532" r="4.85" fill="#121412"/>
<circle cx="1226" cy="1497.9" r="4.85" fill="#121412"/>
<circle cx="1217.2" cy="1514.5" r="4.85" fill="#121412"/>
<circle cx="1235.4" cy="1515.3" r="4.85" fill="#121412"/>
<circle cx="1226" cy="1529.5" r="4.85" fill="#121412"/>
<circle cx="1268.4" cy="1277.2" r="4.85" fill="#121412"/>
<circle cx="1268.4" cy="1425" r="4.85" fill="#121412"/>
<circle cx="1259.6" cy="1456.3" r="4.85" fill="#121412"/>
<circle cx="1277" cy="1449.1" r="4.85" fill="#121412"/>
<circle cx="1338.1" cy="1422.8" r="4.85" fill="#121412"/>
<circle cx="1328.7" cy="1474.3" r="4.85" fill="#121412"/>
<circle cx="1347.3" cy="1479.1" r="4.85" fill="#121412"/>
<circle cx="1338.1" cy="1497.1" r="4.85" fill="#121412"/>
<circle cx="1380.2" cy="1504.6" r="4.85" fill="#121412"/>
<circle cx="1389.6" cy="1503.8" r="4.85" fill="#121412"/>
<circle cx="1371.4" cy="1514.5" r="4.85" fill="#121412"/>
<circle cx="1389.1" cy="1514" r="4.85" fill="#121412"/>
<circle cx="1422.3" cy="1480.5" r="4.85" fill="#121412"/>
<circle cx="1422.3" cy="1491.7" r="4.85" fill="#121412"/>
<circle cx="1413.2" cy="1520.7" r="4.85" fill="#121412"/>
<circle cx="1431.7" cy="1520.2" r="4.85" fill="#121412"/>
<circle cx="1464.2" cy="1350.4" r="4.85" fill="#121412"/>
<circle cx="1455.3" cy="1388.5" r="4.85" fill="#121412"/>
<circle cx="1473.6" cy="1397.3" r="4.85" fill="#121412"/>
<circle cx="1464.2" cy="1471.1" r="4.85" fill="#121412"/>
<g transform="translate(933.44,1573)" fill="#161616"><text xml:space="preserve" x="-0.92" y="0" font-size="22" textLength="24.95" lengthAdjust="spacingAndGlyphs">α2</text></g>
<g transform="translate(976.29,1573)" fill="#161616"><text xml:space="preserve" x="-0.15" y="0" font-size="22" textLength="23.24" lengthAdjust="spacingAndGlyphs">λ1</text></g>
<g transform="translate(1018.34,1573)" fill="#161616"><text xml:space="preserve" x="-0.15" y="0" font-size="22" textLength="23.24" lengthAdjust="spacingAndGlyphs">λ3</text></g>
<g transform="translate(1064.44,1573)" fill="#161616"><text xml:space="preserve" x="-1.8" y="0" font-size="22" textLength="18.33" lengthAdjust="spacingAndGlyphs">M</text></g>
<g transform="translate(1130.14,1573)" fill="#161616"><text xml:space="preserve" x="-0.92" y="0" font-size="22" textLength="24.95" lengthAdjust="spacingAndGlyphs">α2</text></g>
<g transform="translate(1172.89,1573)" fill="#161616"><text xml:space="preserve" x="-0.15" y="0" font-size="22" textLength="23.24" lengthAdjust="spacingAndGlyphs">λ1</text></g>
<g transform="translate(1214.94,1573)" fill="#161616"><text xml:space="preserve" x="-0.15" y="0" font-size="22" textLength="23.24" lengthAdjust="spacingAndGlyphs">λ3</text></g>
<g transform="translate(1261.04,1573)" fill="#161616"><text xml:space="preserve" x="-1.8" y="0" font-size="22" textLength="18.33" lengthAdjust="spacingAndGlyphs">M</text></g>
<g transform="translate(1326.64,1573)" fill="#161616"><text xml:space="preserve" x="-0.92" y="0" font-size="22" textLength="24.95" lengthAdjust="spacingAndGlyphs">α2</text></g>
<g transform="translate(1369.19,1573)" fill="#161616"><text xml:space="preserve" x="-0.15" y="0" font-size="22" textLength="23.24" lengthAdjust="spacingAndGlyphs">λ1</text></g>
<g transform="translate(1411.24,1573)" fill="#161616"><text xml:space="preserve" x="-0.15" y="0" font-size="22" textLength="23.24" lengthAdjust="spacingAndGlyphs">λ3</text></g>
<g transform="translate(1457.34,1573)" fill="#161616"><text xml:space="preserve" x="-1.8" y="0" font-size="22" textLength="18.33" lengthAdjust="spacingAndGlyphs">M</text></g>
<g transform="translate(970.4,1202.1)" fill="#161616"><text xml:space="preserve" x="-1.21" y="0" font-size="26.5" textLength="25.17" lengthAdjust="spacingAndGlyphs">SI</text></g>
<g transform="translate(994.5,1191.6)" fill="#161616"><text xml:space="preserve" x="-0.82" y="0" font-size="16.8" textLength="39.62" lengthAdjust="spacingAndGlyphs">ORG</text></g>
<g transform="translate(1185.3,1202.1)" fill="#161616"><text xml:space="preserve" x="-2.16" y="0" font-size="26.5" textLength="67.43" lengthAdjust="spacingAndGlyphs">Nasal</text></g>
<g transform="translate(1251.5,1191.6)" fill="#161616"><text xml:space="preserve" x="-0.83" y="0" font-size="16.8" textLength="39.73" lengthAdjust="spacingAndGlyphs">ORG</text></g>
<g transform="translate(1382.9,1202.1)" fill="#161616"><text xml:space="preserve" x="-0.05" y="0" font-size="26.5" textLength="36.34" lengthAdjust="spacingAndGlyphs">Alv</text></g>
<g transform="translate(1421.3,1191.6)" fill="#161616"><text xml:space="preserve" x="-0.82" y="0" font-size="16.8" textLength="39.62" lengthAdjust="spacingAndGlyphs">ORG</text></g>
<g transform="translate(1498.2,1433.5)" fill="#161616"><text xml:space="preserve" x="-1.04" y="0" font-size="26.5" textLength="52.17" lengthAdjust="spacingAndGlyphs">50%</text></g>
<g transform="translate(1498.2,1515.3)" fill="#161616"><text xml:space="preserve" x="-1.84" y="0" font-size="26.5" textLength="48.3" lengthAdjust="spacingAndGlyphs">10%</text></g>
<g transform="translate(810.8,1443.7) rotate(-90)" fill="#161616"><text xml:space="preserve" x="-0.74" y="0" font-size="26.5" font-style="italic" textLength="91.34" lengthAdjust="spacingAndGlyphs">MARV-L</text><text xml:space="preserve" x="90.59" y="0" font-size="26.5" textLength="57.75" lengthAdjust="spacingAndGlyphs"> RNA</text></g>
<g transform="translate(840.8,1444.3) rotate(-90)" fill="#161616"><text xml:space="preserve" x="-1.61" y="0" font-size="26.5" textLength="154.83" lengthAdjust="spacingAndGlyphs">(% of no IFN)</text></g>
<g transform="translate(1622.7,1189)" fill="#111"><text xml:space="preserve" x="-4.12" y="0" font-size="38" font-weight="bold" textLength="16.4" lengthAdjust="spacingAndGlyphs">i</text></g>
<line x1="1726.2" y1="1206.9" x2="1726.2" y2="1532.79" stroke="#666" stroke-width="1.3"/>
<line x1="1713.9" y1="1206.9" x2="1726.2" y2="1206.9" stroke="#555" stroke-width="1.3"/>
<g transform="translate(1694.35,1204.3)" fill="#161616"><text xml:space="preserve" x="-0.53" y="0" font-size="13.5" textLength="7.51" lengthAdjust="spacingAndGlyphs">0</text></g>
<g transform="translate(1670.21,1216.1)" fill="#161616"><text xml:space="preserve" x="-1.68" y="0" font-size="22" textLength="24.47" lengthAdjust="spacingAndGlyphs">10</text></g>
<line x1="1713.9" y1="1315.53" x2="1726.2" y2="1315.53" stroke="#555" stroke-width="1.3"/>
<g transform="translate(1687.72,1312.93)" fill="#161616"><text xml:space="preserve" x="-0.62" y="0" font-size="13.5" textLength="14.31" lengthAdjust="spacingAndGlyphs">−1</text></g>
<g transform="translate(1663.58,1324.73)" fill="#161616"><text xml:space="preserve" x="-1.68" y="0" font-size="22" textLength="24.47" lengthAdjust="spacingAndGlyphs">10</text></g>
<line x1="1713.9" y1="1424.16" x2="1726.2" y2="1424.16" stroke="#555" stroke-width="1.3"/>
<g transform="translate(1687.74,1421.56)" fill="#161616"><text xml:space="preserve" x="-0.62" y="0" font-size="13.5" textLength="14.31" lengthAdjust="spacingAndGlyphs">−2</text></g>
<g transform="translate(1663.6,1433.36)" fill="#161616"><text xml:space="preserve" x="-1.68" y="0" font-size="22" textLength="24.47" lengthAdjust="spacingAndGlyphs">10</text></g>
<line x1="1713.9" y1="1532.79" x2="1726.2" y2="1532.79" stroke="#555" stroke-width="1.3"/>
<g transform="translate(1687.66,1530.19)" fill="#161616"><text xml:space="preserve" x="-0.62" y="0" font-size="13.5" textLength="14.31" lengthAdjust="spacingAndGlyphs">−3</text></g>
<g transform="translate(1663.52,1541.99)" fill="#161616"><text xml:space="preserve" x="-1.68" y="0" font-size="22" textLength="24.47" lengthAdjust="spacingAndGlyphs">10</text></g>
<line x1="1713.9" y1="1532.79" x2="1856.3" y2="1532.79" stroke="#333" stroke-width="1.4"/>
<rect x="1762.4" y="1364.6" width="26" height="168.19" fill="#dc3727" stroke="#666" stroke-width="1.2"/>
<rect x="1813.9" y="1473.2" width="26.8" height="59.59" fill="#c4c5c4" stroke="#666" stroke-width="1.2"/>
<line x1="1769.7" y1="1318.8" x2="1831.4" y2="1318.8" stroke="#555" stroke-width="1.5"/>
<text class="st" x="1793.3" y="1320.43" font-size="30.5" text-anchor="middle" fill="#161616">*</text>
<text class="st" x="1807.7" y="1320.43" font-size="30.5" text-anchor="middle" fill="#161616">*</text>
<circle cx="1766.5" cy="1351.7" r="4.85" fill="#121412"/>
<circle cx="1785" cy="1362.5" r="4.85" fill="#121412"/>
<circle cx="1775" cy="1382" r="4.85" fill="#121412"/>
<circle cx="1826.8" cy="1464.4" r="4.85" fill="#121412"/>
<circle cx="1818" cy="1478.6" r="4.85" fill="#121412"/>
<circle cx="1835.9" cy="1475.9" r="4.85" fill="#121412"/>
<rect x="1791.4" y="1197.3" width="22.5" height="22.2" fill="#dc3727" stroke="#555" stroke-width="1.3"/>
<rect x="1791.4" y="1238.1" width="22.5" height="21.9" fill="#c4c5c4" stroke="#555" stroke-width="1.3"/>
<g transform="translate(1827.3,1217.7)" fill="#161616"><text xml:space="preserve" x="-2.29" y="0" font-size="26.5" textLength="128.76" lengthAdjust="spacingAndGlyphs">Ruxolitinib</text></g>
<g transform="translate(1827.3,1257.9)" fill="#161616"><text xml:space="preserve" x="-2.11" y="0" font-size="26.5" textLength="77.14" lengthAdjust="spacingAndGlyphs">DMSO</text></g>
<g transform="translate(1643,1500) rotate(-90)" fill="#161616"><text xml:space="preserve" x="-0.78" y="0" font-size="26.5" font-style="italic" textLength="95.77" lengthAdjust="spacingAndGlyphs">MARV-L</text><text xml:space="preserve" x="94.99" y="0" font-size="26.5" textLength="166.19" lengthAdjust="spacingAndGlyphs"> RNA (relative)</text></g>
</svg></body></html>
